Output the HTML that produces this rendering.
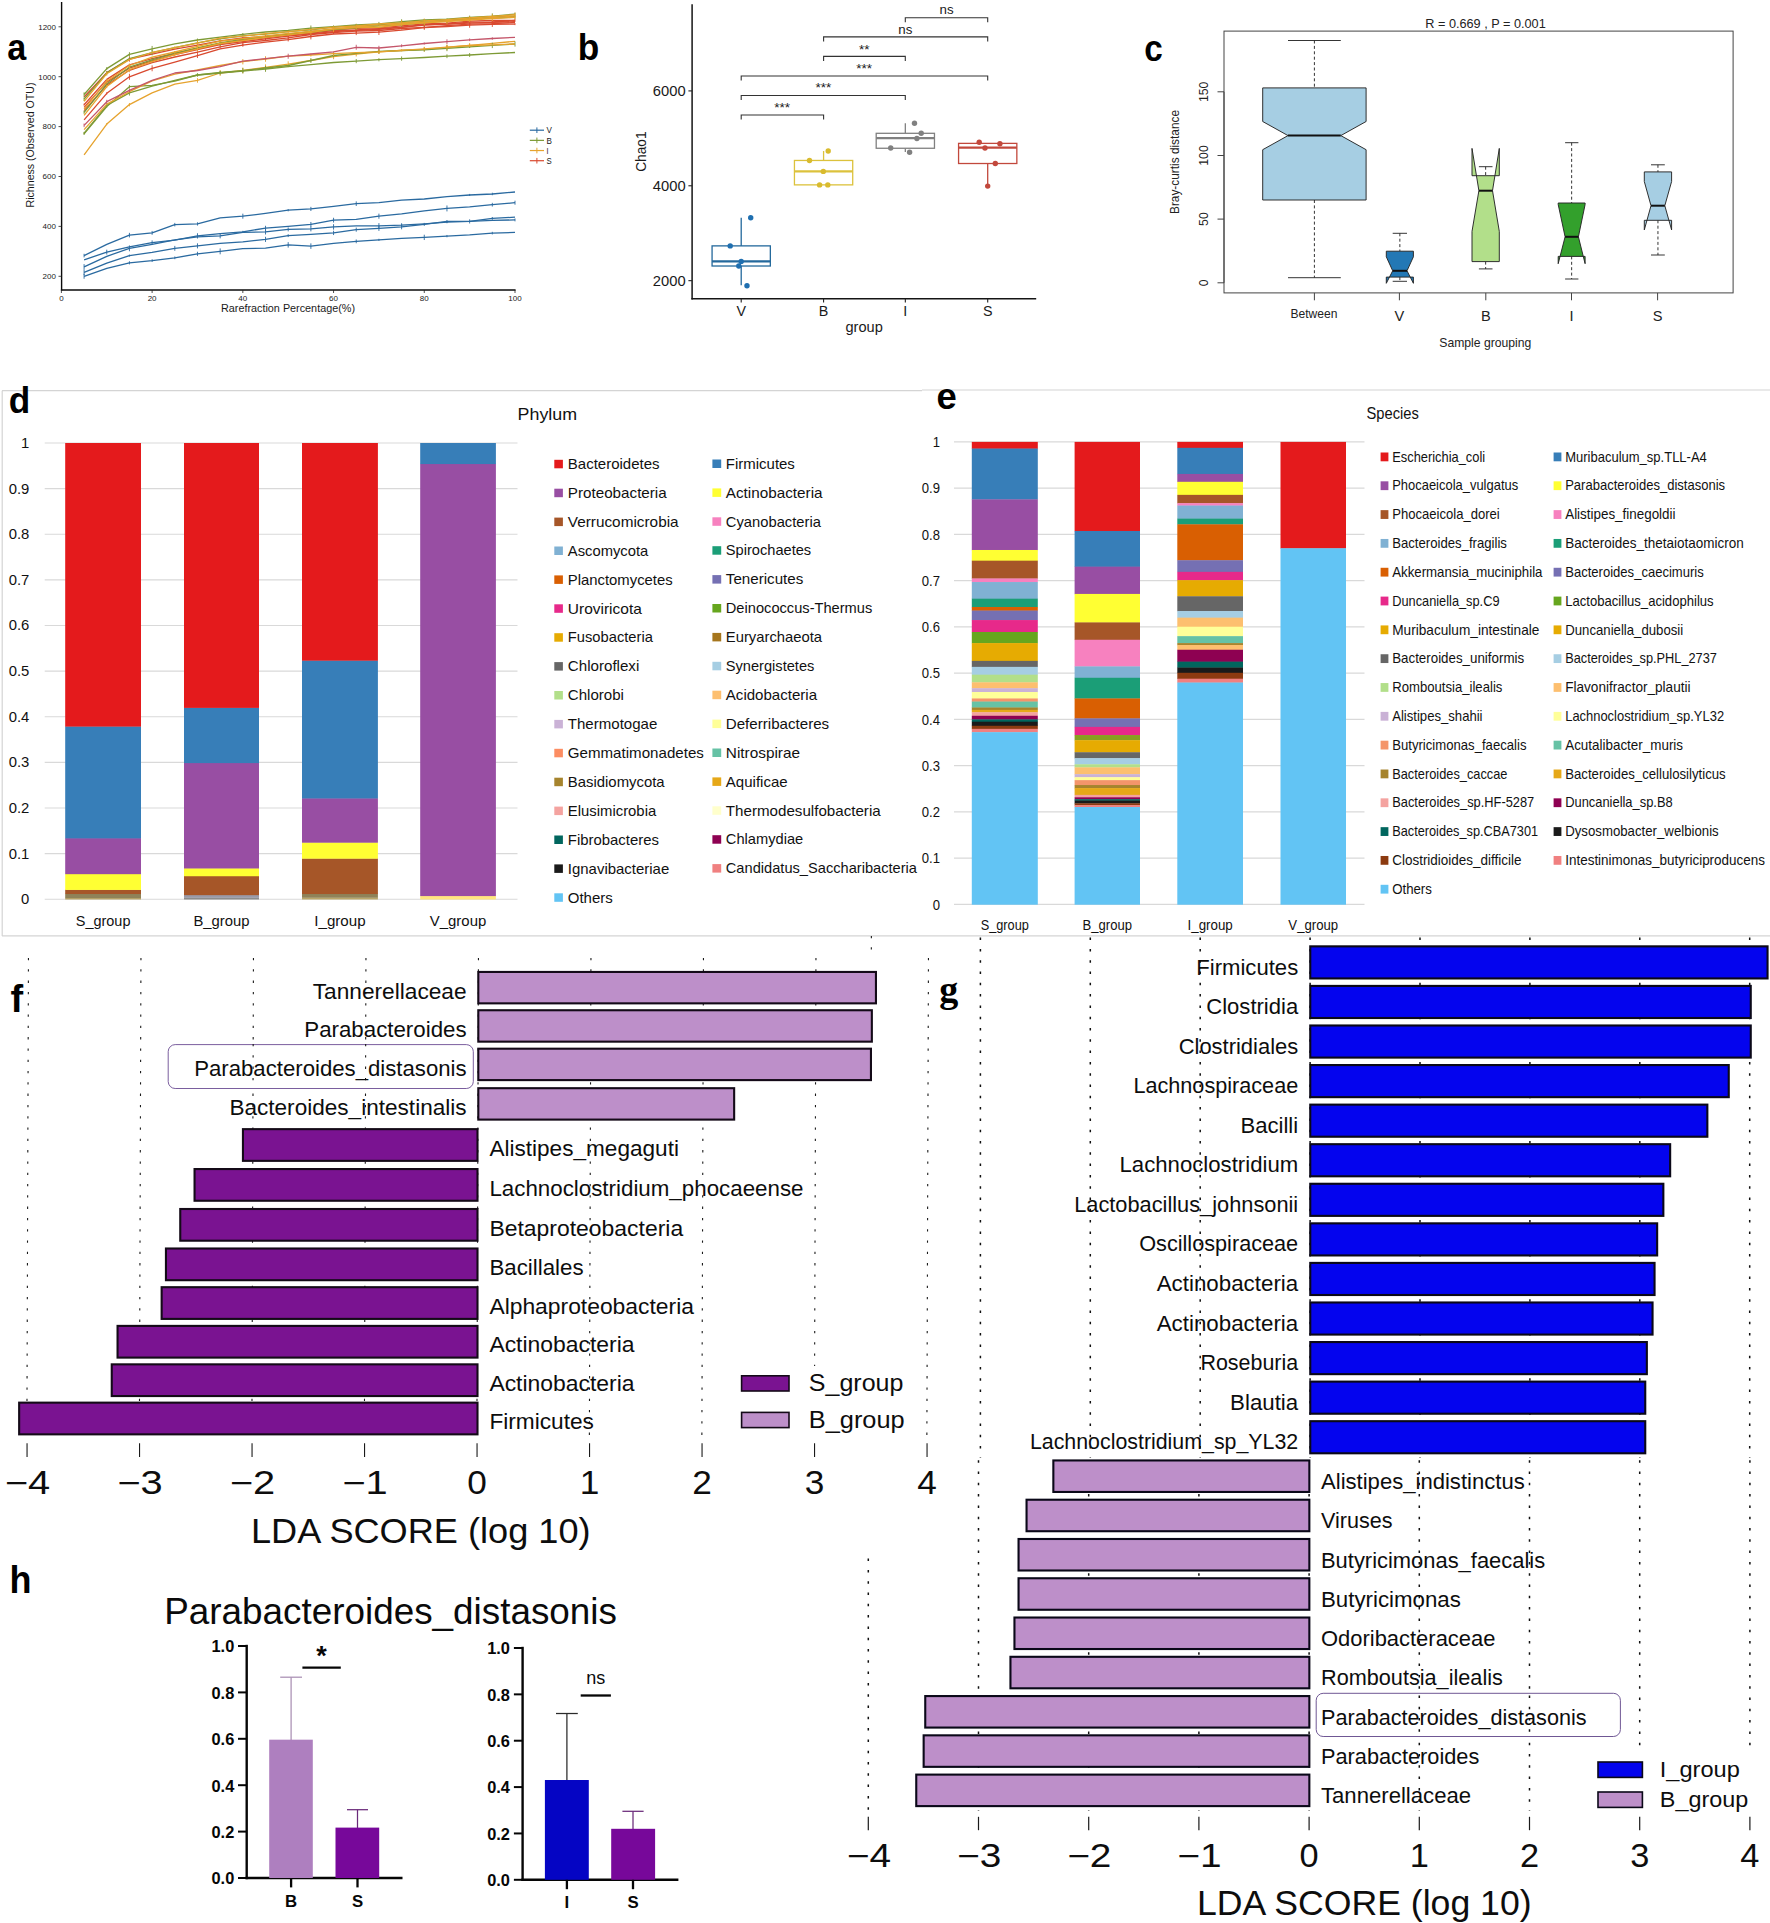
<!DOCTYPE html>
<html><head><meta charset="utf-8"><title>Figure</title>
<style>
html,body{margin:0;padding:0;background:#fff;}
body{width:1770px;height:1923px;overflow:hidden;}
svg{display:block;font-family:"Liberation Sans",sans-serif;}
</style></head><body>
<svg width="1770" height="1923" viewBox="0 0 1770 1923">
<rect x="0" y="0" width="1770" height="1923" fill="#fff"/>
<g id="panel_a">
<line x1="61.60" y1="2.00" x2="61.60" y2="290.50" stroke="#0a0a0a" stroke-width="1.4"/>
<line x1="60.90" y1="290.00" x2="515.60" y2="290.00" stroke="#0a0a0a" stroke-width="1.5"/>
<line x1="58.50" y1="276.30" x2="61.60" y2="276.30" stroke="#222" stroke-width="0.8"/>
<text x="56.00" y="279.10" font-size="7.9" text-anchor="end" fill="#1a1a1a" textLength="13.36" lengthAdjust="spacingAndGlyphs">200</text>
<line x1="58.50" y1="226.40" x2="61.60" y2="226.40" stroke="#222" stroke-width="0.8"/>
<text x="56.00" y="229.20" font-size="7.9" text-anchor="end" fill="#1a1a1a" textLength="13.36" lengthAdjust="spacingAndGlyphs">400</text>
<line x1="58.50" y1="176.50" x2="61.60" y2="176.50" stroke="#222" stroke-width="0.8"/>
<text x="56.00" y="179.30" font-size="7.9" text-anchor="end" fill="#1a1a1a" textLength="13.36" lengthAdjust="spacingAndGlyphs">600</text>
<line x1="58.50" y1="126.60" x2="61.60" y2="126.60" stroke="#222" stroke-width="0.8"/>
<text x="56.00" y="129.40" font-size="7.9" text-anchor="end" fill="#1a1a1a" textLength="13.36" lengthAdjust="spacingAndGlyphs">800</text>
<line x1="58.50" y1="76.70" x2="61.60" y2="76.70" stroke="#222" stroke-width="0.8"/>
<text x="56.00" y="79.50" font-size="7.9" text-anchor="end" fill="#1a1a1a" textLength="17.81" lengthAdjust="spacingAndGlyphs">1000</text>
<line x1="58.50" y1="26.80" x2="61.60" y2="26.80" stroke="#222" stroke-width="0.8"/>
<text x="56.00" y="29.60" font-size="7.9" text-anchor="end" fill="#1a1a1a" textLength="17.81" lengthAdjust="spacingAndGlyphs">1200</text>
<line x1="61.40" y1="290.00" x2="61.40" y2="293.00" stroke="#222" stroke-width="0.8"/>
<text x="61.40" y="301.20" font-size="7.9" text-anchor="middle" fill="#1a1a1a" textLength="4.45" lengthAdjust="spacingAndGlyphs">0</text>
<line x1="152.12" y1="290.00" x2="152.12" y2="293.00" stroke="#222" stroke-width="0.8"/>
<text x="152.12" y="301.20" font-size="7.9" text-anchor="middle" fill="#1a1a1a" textLength="8.91" lengthAdjust="spacingAndGlyphs">20</text>
<line x1="242.84" y1="290.00" x2="242.84" y2="293.00" stroke="#222" stroke-width="0.8"/>
<text x="242.84" y="301.20" font-size="7.9" text-anchor="middle" fill="#1a1a1a" textLength="8.91" lengthAdjust="spacingAndGlyphs">40</text>
<line x1="333.56" y1="290.00" x2="333.56" y2="293.00" stroke="#222" stroke-width="0.8"/>
<text x="333.56" y="301.20" font-size="7.9" text-anchor="middle" fill="#1a1a1a" textLength="8.91" lengthAdjust="spacingAndGlyphs">60</text>
<line x1="424.28" y1="290.00" x2="424.28" y2="293.00" stroke="#222" stroke-width="0.8"/>
<text x="424.28" y="301.20" font-size="7.9" text-anchor="middle" fill="#1a1a1a" textLength="8.91" lengthAdjust="spacingAndGlyphs">80</text>
<line x1="515.00" y1="290.00" x2="515.00" y2="293.00" stroke="#222" stroke-width="0.8"/>
<text x="515.00" y="301.20" font-size="7.9" text-anchor="middle" fill="#1a1a1a" textLength="13.36" lengthAdjust="spacingAndGlyphs">100</text>
<text x="288.00" y="311.70" font-size="10.5" text-anchor="middle" fill="#1a1a1a" textLength="134.00" lengthAdjust="spacingAndGlyphs">Rarefraction Percentage(%)</text>
<text transform="translate(33.6,145) rotate(-90)" font-size="10.5" text-anchor="middle" fill="#1a1a1a" textLength="125" lengthAdjust="spacingAndGlyphs">Richness (Observed OTU)</text>
<path d="M84.1,97.0 L106.8,72.6 L129.4,59.2 L152.1,54.2 L174.8,49.1 L197.5,45.2 L220.2,40.8 L242.8,38.0 L265.5,36.6 L288.2,34.5 L310.9,31.5 L333.6,29.7 L356.2,28.3 L378.9,27.9 L401.6,25.8 L424.3,23.9 L447.0,23.2 L469.6,21.2 L492.3,20.4 L515.0,20.3" stroke="#d9492f" stroke-width="1.3" fill="none" stroke-linejoin="round"/>
<line x1="106.76" y1="71.04" x2="106.76" y2="74.14" stroke="#d9492f" stroke-width="0.9"/>
<line x1="129.44" y1="56.72" x2="129.44" y2="61.67" stroke="#d9492f" stroke-width="0.9"/>
<line x1="197.48" y1="43.31" x2="197.48" y2="47.00" stroke="#d9492f" stroke-width="0.9"/>
<line x1="220.16" y1="39.35" x2="220.16" y2="42.22" stroke="#d9492f" stroke-width="0.9"/>
<line x1="242.84" y1="36.95" x2="242.84" y2="39.06" stroke="#d9492f" stroke-width="0.9"/>
<line x1="265.52" y1="34.32" x2="265.52" y2="38.92" stroke="#d9492f" stroke-width="0.9"/>
<line x1="288.20" y1="33.10" x2="288.20" y2="35.98" stroke="#d9492f" stroke-width="0.9"/>
<line x1="356.24" y1="25.66" x2="356.24" y2="30.88" stroke="#d9492f" stroke-width="0.9"/>
<line x1="401.60" y1="24.51" x2="401.60" y2="27.13" stroke="#d9492f" stroke-width="0.9"/>
<line x1="446.96" y1="21.97" x2="446.96" y2="24.34" stroke="#d9492f" stroke-width="0.9"/>
<line x1="469.64" y1="18.55" x2="469.64" y2="23.94" stroke="#d9492f" stroke-width="0.9"/>
<path d="M84.1,107.4 L106.8,82.1 L129.4,68.1 L152.1,60.9 L174.8,54.6 L197.5,49.6 L220.2,44.5 L242.8,41.7 L265.5,38.8 L288.2,36.2 L310.9,33.8 L333.6,31.7 L356.2,30.4 L378.9,29.4 L401.6,27.3 L424.3,25.2 L447.0,24.0 L469.6,23.2 L492.3,22.3 L515.0,21.6" stroke="#d9492f" stroke-width="1.3" fill="none" stroke-linejoin="round"/>
<line x1="106.76" y1="79.11" x2="106.76" y2="85.01" stroke="#d9492f" stroke-width="0.9"/>
<line x1="129.44" y1="65.95" x2="129.44" y2="70.16" stroke="#d9492f" stroke-width="0.9"/>
<line x1="265.52" y1="37.39" x2="265.52" y2="40.30" stroke="#d9492f" stroke-width="0.9"/>
<line x1="288.20" y1="35.09" x2="288.20" y2="37.40" stroke="#d9492f" stroke-width="0.9"/>
<line x1="310.88" y1="32.60" x2="310.88" y2="35.01" stroke="#d9492f" stroke-width="0.9"/>
<line x1="333.56" y1="29.48" x2="333.56" y2="34.02" stroke="#d9492f" stroke-width="0.9"/>
<line x1="356.24" y1="28.66" x2="356.24" y2="32.14" stroke="#d9492f" stroke-width="0.9"/>
<line x1="378.92" y1="27.84" x2="378.92" y2="30.90" stroke="#d9492f" stroke-width="0.9"/>
<line x1="469.64" y1="20.72" x2="469.64" y2="25.63" stroke="#d9492f" stroke-width="0.9"/>
<line x1="492.32" y1="20.58" x2="492.32" y2="24.10" stroke="#d9492f" stroke-width="0.9"/>
<path d="M84.1,110.6 L106.8,85.1 L129.4,70.3 L152.1,62.6 L174.8,57.0 L197.5,52.2 L220.2,46.8 L242.8,42.7 L265.5,40.5 L288.2,37.8 L310.9,34.5 L333.6,32.5 L356.2,31.1 L378.9,30.5 L401.6,28.5 L424.3,27.3 L447.0,25.6 L469.6,24.1 L492.3,23.6 L515.0,22.5" stroke="#d9492f" stroke-width="1.3" fill="none" stroke-linejoin="round"/>
<line x1="197.48" y1="51.13" x2="197.48" y2="53.26" stroke="#d9492f" stroke-width="0.9"/>
<line x1="220.16" y1="45.27" x2="220.16" y2="48.34" stroke="#d9492f" stroke-width="0.9"/>
<line x1="242.84" y1="39.79" x2="242.84" y2="45.57" stroke="#d9492f" stroke-width="0.9"/>
<line x1="288.20" y1="35.50" x2="288.20" y2="40.12" stroke="#d9492f" stroke-width="0.9"/>
<line x1="310.88" y1="31.69" x2="310.88" y2="37.34" stroke="#d9492f" stroke-width="0.9"/>
<line x1="333.56" y1="30.96" x2="333.56" y2="34.02" stroke="#d9492f" stroke-width="0.9"/>
<line x1="356.24" y1="29.00" x2="356.24" y2="33.25" stroke="#d9492f" stroke-width="0.9"/>
<line x1="378.92" y1="28.32" x2="378.92" y2="32.66" stroke="#d9492f" stroke-width="0.9"/>
<line x1="424.28" y1="25.81" x2="424.28" y2="28.69" stroke="#d9492f" stroke-width="0.9"/>
<line x1="469.64" y1="22.95" x2="469.64" y2="25.31" stroke="#d9492f" stroke-width="0.9"/>
<line x1="492.32" y1="22.40" x2="492.32" y2="24.84" stroke="#d9492f" stroke-width="0.9"/>
<path d="M84.1,119.9 L106.8,93.3 L129.4,76.8 L152.1,68.3 L174.8,62.2 L197.5,55.6 L220.2,48.8 L242.8,45.2 L265.5,42.1 L288.2,39.6 L310.9,36.5 L333.6,34.0 L356.2,33.1 L378.9,32.2 L401.6,30.2 L424.3,27.6 L447.0,26.5 L469.6,25.2 L492.3,24.4 L515.0,24.1" stroke="#d9492f" stroke-width="1.3" fill="none" stroke-linejoin="round"/>
<line x1="106.76" y1="92.19" x2="106.76" y2="94.44" stroke="#d9492f" stroke-width="0.9"/>
<line x1="129.44" y1="73.81" x2="129.44" y2="79.80" stroke="#d9492f" stroke-width="0.9"/>
<line x1="152.12" y1="65.37" x2="152.12" y2="71.25" stroke="#d9492f" stroke-width="0.9"/>
<line x1="197.48" y1="53.15" x2="197.48" y2="58.03" stroke="#d9492f" stroke-width="0.9"/>
<line x1="242.84" y1="43.68" x2="242.84" y2="46.75" stroke="#d9492f" stroke-width="0.9"/>
<line x1="288.20" y1="37.68" x2="288.20" y2="41.42" stroke="#d9492f" stroke-width="0.9"/>
<line x1="310.88" y1="33.59" x2="310.88" y2="39.40" stroke="#d9492f" stroke-width="0.9"/>
<line x1="356.24" y1="31.11" x2="356.24" y2="35.12" stroke="#d9492f" stroke-width="0.9"/>
<line x1="378.92" y1="29.36" x2="378.92" y2="35.01" stroke="#d9492f" stroke-width="0.9"/>
<line x1="424.28" y1="25.34" x2="424.28" y2="29.90" stroke="#d9492f" stroke-width="0.9"/>
<line x1="469.64" y1="22.72" x2="469.64" y2="27.77" stroke="#d9492f" stroke-width="0.9"/>
<line x1="492.32" y1="21.82" x2="492.32" y2="26.94" stroke="#d9492f" stroke-width="0.9"/>
<line x1="515.00" y1="23.11" x2="515.00" y2="25.11" stroke="#d9492f" stroke-width="0.9"/>
<path d="M84.1,104.7 L106.8,79.4 L129.4,64.9 L152.1,58.7 L174.8,53.5 L197.5,48.4 L220.2,43.6 L242.8,40.1 L265.5,37.8 L288.2,35.4 L310.9,33.0 L333.6,30.5 L356.2,30.0 L378.9,28.6 L401.6,27.1 L424.3,24.6 L447.0,24.2 L469.6,22.2 L492.3,22.0 L515.0,20.4" stroke="#d9492f" stroke-width="1.3" fill="none" stroke-linejoin="round"/>
<line x1="84.08" y1="103.63" x2="84.08" y2="105.71" stroke="#d9492f" stroke-width="0.9"/>
<line x1="174.80" y1="52.39" x2="174.80" y2="54.62" stroke="#d9492f" stroke-width="0.9"/>
<line x1="242.84" y1="38.09" x2="242.84" y2="42.03" stroke="#d9492f" stroke-width="0.9"/>
<line x1="265.52" y1="35.24" x2="265.52" y2="40.28" stroke="#d9492f" stroke-width="0.9"/>
<line x1="310.88" y1="31.10" x2="310.88" y2="35.00" stroke="#d9492f" stroke-width="0.9"/>
<line x1="333.56" y1="29.01" x2="333.56" y2="32.07" stroke="#d9492f" stroke-width="0.9"/>
<line x1="378.92" y1="27.14" x2="378.92" y2="29.99" stroke="#d9492f" stroke-width="0.9"/>
<line x1="401.60" y1="24.62" x2="401.60" y2="29.54" stroke="#d9492f" stroke-width="0.9"/>
<line x1="424.28" y1="22.96" x2="424.28" y2="26.20" stroke="#d9492f" stroke-width="0.9"/>
<line x1="492.32" y1="19.93" x2="492.32" y2="24.00" stroke="#d9492f" stroke-width="0.9"/>
<line x1="515.00" y1="18.95" x2="515.00" y2="21.85" stroke="#d9492f" stroke-width="0.9"/>
<path d="M84.1,94.5 L106.8,68.6 L129.4,54.4 L152.1,48.8 L174.8,43.9 L197.5,40.0 L220.2,37.2 L242.8,34.3 L265.5,32.0 L288.2,30.4 L310.9,28.1 L333.6,26.7 L356.2,25.0 L378.9,23.8 L401.6,21.7 L424.3,19.9 L447.0,19.1 L469.6,17.4 L492.3,16.1 L515.0,14.1" stroke="#7d9a35" stroke-width="1.3" fill="none" stroke-linejoin="round"/>
<line x1="84.08" y1="92.36" x2="84.08" y2="96.72" stroke="#7d9a35" stroke-width="0.9"/>
<line x1="106.76" y1="67.17" x2="106.76" y2="70.05" stroke="#7d9a35" stroke-width="0.9"/>
<line x1="129.44" y1="52.19" x2="129.44" y2="56.71" stroke="#7d9a35" stroke-width="0.9"/>
<line x1="152.12" y1="45.96" x2="152.12" y2="51.58" stroke="#7d9a35" stroke-width="0.9"/>
<line x1="197.48" y1="38.54" x2="197.48" y2="41.49" stroke="#7d9a35" stroke-width="0.9"/>
<line x1="242.84" y1="33.02" x2="242.84" y2="35.55" stroke="#7d9a35" stroke-width="0.9"/>
<line x1="310.88" y1="25.49" x2="310.88" y2="30.62" stroke="#7d9a35" stroke-width="0.9"/>
<line x1="356.24" y1="23.76" x2="356.24" y2="26.15" stroke="#7d9a35" stroke-width="0.9"/>
<line x1="378.92" y1="21.91" x2="378.92" y2="25.60" stroke="#7d9a35" stroke-width="0.9"/>
<line x1="401.60" y1="19.24" x2="401.60" y2="24.15" stroke="#7d9a35" stroke-width="0.9"/>
<line x1="469.64" y1="15.64" x2="469.64" y2="19.25" stroke="#7d9a35" stroke-width="0.9"/>
<line x1="492.32" y1="13.36" x2="492.32" y2="18.81" stroke="#7d9a35" stroke-width="0.9"/>
<line x1="515.00" y1="12.76" x2="515.00" y2="15.52" stroke="#7d9a35" stroke-width="0.9"/>
<path d="M84.1,99.1 L106.8,72.9 L129.4,58.6 L152.1,52.7 L174.8,47.6 L197.5,42.8 L220.2,38.8 L242.8,35.8 L265.5,34.1 L288.2,31.7 L310.9,29.9 L333.6,27.2 L356.2,25.9 L378.9,24.8 L401.6,22.9 L424.3,21.0 L447.0,20.1 L469.6,18.3 L492.3,16.8 L515.0,16.1" stroke="#7d9a35" stroke-width="1.3" fill="none" stroke-linejoin="round"/>
<line x1="84.08" y1="97.27" x2="84.08" y2="100.96" stroke="#7d9a35" stroke-width="0.9"/>
<line x1="106.76" y1="71.37" x2="106.76" y2="74.37" stroke="#7d9a35" stroke-width="0.9"/>
<line x1="152.12" y1="49.95" x2="152.12" y2="55.39" stroke="#7d9a35" stroke-width="0.9"/>
<line x1="197.48" y1="39.77" x2="197.48" y2="45.76" stroke="#7d9a35" stroke-width="0.9"/>
<line x1="310.88" y1="27.95" x2="310.88" y2="31.89" stroke="#7d9a35" stroke-width="0.9"/>
<line x1="333.56" y1="25.37" x2="333.56" y2="28.97" stroke="#7d9a35" stroke-width="0.9"/>
<line x1="356.24" y1="24.11" x2="356.24" y2="27.63" stroke="#7d9a35" stroke-width="0.9"/>
<line x1="401.60" y1="20.32" x2="401.60" y2="25.46" stroke="#7d9a35" stroke-width="0.9"/>
<line x1="424.28" y1="19.11" x2="424.28" y2="22.80" stroke="#7d9a35" stroke-width="0.9"/>
<path d="M84.1,112.3 L106.8,84.0 L129.4,67.2 L152.1,59.8 L174.8,53.1 L197.5,47.9 L220.2,43.0 L242.8,39.2 L265.5,37.1 L288.2,34.1 L310.9,32.0 L333.6,29.5 L356.2,27.8 L378.9,25.9 L401.6,24.7 L424.3,22.7 L447.0,20.8 L469.6,19.0 L492.3,18.1 L515.0,17.0" stroke="#7d9a35" stroke-width="1.3" fill="none" stroke-linejoin="round"/>
<line x1="84.08" y1="110.71" x2="84.08" y2="113.90" stroke="#7d9a35" stroke-width="0.9"/>
<line x1="152.12" y1="57.31" x2="152.12" y2="62.30" stroke="#7d9a35" stroke-width="0.9"/>
<line x1="174.80" y1="50.97" x2="174.80" y2="55.31" stroke="#7d9a35" stroke-width="0.9"/>
<line x1="197.48" y1="45.20" x2="197.48" y2="50.61" stroke="#7d9a35" stroke-width="0.9"/>
<line x1="220.16" y1="40.06" x2="220.16" y2="45.91" stroke="#7d9a35" stroke-width="0.9"/>
<line x1="242.84" y1="37.85" x2="242.84" y2="40.59" stroke="#7d9a35" stroke-width="0.9"/>
<line x1="310.88" y1="30.74" x2="310.88" y2="33.22" stroke="#7d9a35" stroke-width="0.9"/>
<line x1="356.24" y1="25.56" x2="356.24" y2="29.94" stroke="#7d9a35" stroke-width="0.9"/>
<line x1="401.60" y1="22.55" x2="401.60" y2="26.88" stroke="#7d9a35" stroke-width="0.9"/>
<line x1="424.28" y1="19.83" x2="424.28" y2="25.57" stroke="#7d9a35" stroke-width="0.9"/>
<line x1="446.96" y1="18.39" x2="446.96" y2="23.25" stroke="#7d9a35" stroke-width="0.9"/>
<line x1="469.64" y1="17.23" x2="469.64" y2="20.81" stroke="#7d9a35" stroke-width="0.9"/>
<line x1="515.00" y1="15.32" x2="515.00" y2="18.59" stroke="#7d9a35" stroke-width="0.9"/>
<path d="M84.1,101.4 L106.8,73.7 L129.4,59.6 L152.1,52.5 L174.8,47.7 L197.5,43.2 L220.2,38.2 L242.8,36.2 L265.5,33.6 L288.2,31.7 L310.9,29.4 L333.6,27.2 L356.2,26.0 L378.9,24.0 L401.6,22.9 L424.3,20.9 L447.0,19.7 L469.6,18.0 L492.3,16.5 L515.0,14.7" stroke="#e6a32e" stroke-width="1.3" fill="none" stroke-linejoin="round"/>
<line x1="106.76" y1="71.82" x2="106.76" y2="75.66" stroke="#e6a32e" stroke-width="0.9"/>
<line x1="174.80" y1="46.23" x2="174.80" y2="49.08" stroke="#e6a32e" stroke-width="0.9"/>
<line x1="197.48" y1="40.29" x2="197.48" y2="46.02" stroke="#e6a32e" stroke-width="0.9"/>
<line x1="265.52" y1="32.28" x2="265.52" y2="34.92" stroke="#e6a32e" stroke-width="0.9"/>
<line x1="401.60" y1="20.23" x2="401.60" y2="25.49" stroke="#e6a32e" stroke-width="0.9"/>
<line x1="424.28" y1="18.56" x2="424.28" y2="23.22" stroke="#e6a32e" stroke-width="0.9"/>
<line x1="469.64" y1="16.73" x2="469.64" y2="19.19" stroke="#e6a32e" stroke-width="0.9"/>
<line x1="492.32" y1="14.39" x2="492.32" y2="18.60" stroke="#e6a32e" stroke-width="0.9"/>
<line x1="515.00" y1="12.46" x2="515.00" y2="16.88" stroke="#e6a32e" stroke-width="0.9"/>
<path d="M84.1,109.2 L106.8,81.2 L129.4,65.5 L152.1,57.2 L174.8,52.0 L197.5,46.4 L220.2,41.1 L242.8,38.7 L265.5,35.8 L288.2,33.3 L310.9,31.4 L333.6,28.7 L356.2,26.9 L378.9,25.8 L401.6,23.6 L424.3,22.3 L447.0,20.7 L469.6,19.4 L492.3,17.7 L515.0,15.9" stroke="#e6a32e" stroke-width="1.3" fill="none" stroke-linejoin="round"/>
<line x1="106.76" y1="78.96" x2="106.76" y2="83.49" stroke="#e6a32e" stroke-width="0.9"/>
<line x1="129.44" y1="63.51" x2="129.44" y2="67.47" stroke="#e6a32e" stroke-width="0.9"/>
<line x1="197.48" y1="44.58" x2="197.48" y2="48.27" stroke="#e6a32e" stroke-width="0.9"/>
<line x1="220.16" y1="40.06" x2="220.16" y2="42.08" stroke="#e6a32e" stroke-width="0.9"/>
<line x1="288.20" y1="30.80" x2="288.20" y2="35.76" stroke="#e6a32e" stroke-width="0.9"/>
<line x1="333.56" y1="27.64" x2="333.56" y2="29.68" stroke="#e6a32e" stroke-width="0.9"/>
<line x1="356.24" y1="24.16" x2="356.24" y2="29.69" stroke="#e6a32e" stroke-width="0.9"/>
<line x1="401.60" y1="20.91" x2="401.60" y2="26.25" stroke="#e6a32e" stroke-width="0.9"/>
<line x1="446.96" y1="19.45" x2="446.96" y2="21.96" stroke="#e6a32e" stroke-width="0.9"/>
<line x1="469.64" y1="16.57" x2="469.64" y2="22.16" stroke="#e6a32e" stroke-width="0.9"/>
<path d="M84.1,115.3 L106.8,86.6 L129.4,69.7 L152.1,61.6 L174.8,54.6 L197.5,48.9 L220.2,43.5 L242.8,40.6 L265.5,37.4 L288.2,34.9 L310.9,32.4 L333.6,29.2 L356.2,27.7 L378.9,27.3 L401.6,24.5 L424.3,22.8 L447.0,21.6 L469.6,20.2 L492.3,18.5 L515.0,17.4" stroke="#e6a32e" stroke-width="1.3" fill="none" stroke-linejoin="round"/>
<line x1="106.76" y1="85.07" x2="106.76" y2="88.07" stroke="#e6a32e" stroke-width="0.9"/>
<line x1="129.44" y1="67.13" x2="129.44" y2="72.26" stroke="#e6a32e" stroke-width="0.9"/>
<line x1="174.80" y1="52.36" x2="174.80" y2="56.84" stroke="#e6a32e" stroke-width="0.9"/>
<line x1="197.48" y1="46.02" x2="197.48" y2="51.74" stroke="#e6a32e" stroke-width="0.9"/>
<line x1="310.88" y1="29.96" x2="310.88" y2="34.90" stroke="#e6a32e" stroke-width="0.9"/>
<line x1="333.56" y1="26.32" x2="333.56" y2="32.04" stroke="#e6a32e" stroke-width="0.9"/>
<line x1="424.28" y1="20.27" x2="424.28" y2="25.41" stroke="#e6a32e" stroke-width="0.9"/>
<line x1="446.96" y1="18.83" x2="446.96" y2="24.32" stroke="#e6a32e" stroke-width="0.9"/>
<line x1="492.32" y1="15.86" x2="492.32" y2="21.13" stroke="#e6a32e" stroke-width="0.9"/>
<line x1="515.00" y1="15.79" x2="515.00" y2="19.01" stroke="#e6a32e" stroke-width="0.9"/>
<path d="M84.1,154.8 L106.8,124.1 L129.4,104.6 L152.1,92.9 L174.8,84.2 L197.5,80.4 L220.2,73.0 L242.8,70.5 L265.5,67.3 L288.2,64.2 L310.9,60.5 L333.6,56.7 L356.2,54.2 L378.9,51.8 L401.6,50.5 L424.3,49.3 L447.0,47.4 L469.6,45.5 L492.3,43.4 L515.0,41.3" stroke="#e6a32e" stroke-width="1.3" fill="none" stroke-linejoin="round"/>
<line x1="106.76" y1="123.06" x2="106.76" y2="125.15" stroke="#e6a32e" stroke-width="0.9"/>
<line x1="129.44" y1="102.99" x2="129.44" y2="106.30" stroke="#e6a32e" stroke-width="0.9"/>
<line x1="197.48" y1="78.16" x2="197.48" y2="82.73" stroke="#e6a32e" stroke-width="0.9"/>
<line x1="220.16" y1="70.00" x2="220.16" y2="75.92" stroke="#e6a32e" stroke-width="0.9"/>
<line x1="242.84" y1="67.58" x2="242.84" y2="73.34" stroke="#e6a32e" stroke-width="0.9"/>
<line x1="265.52" y1="64.40" x2="265.52" y2="70.28" stroke="#e6a32e" stroke-width="0.9"/>
<line x1="288.20" y1="61.30" x2="288.20" y2="67.15" stroke="#e6a32e" stroke-width="0.9"/>
<line x1="310.88" y1="59.27" x2="310.88" y2="61.70" stroke="#e6a32e" stroke-width="0.9"/>
<line x1="333.56" y1="54.28" x2="333.56" y2="59.20" stroke="#e6a32e" stroke-width="0.9"/>
<line x1="356.24" y1="52.03" x2="356.24" y2="56.46" stroke="#e6a32e" stroke-width="0.9"/>
<line x1="378.92" y1="49.98" x2="378.92" y2="53.52" stroke="#e6a32e" stroke-width="0.9"/>
<line x1="424.28" y1="46.84" x2="424.28" y2="51.67" stroke="#e6a32e" stroke-width="0.9"/>
<line x1="446.96" y1="44.53" x2="446.96" y2="50.23" stroke="#e6a32e" stroke-width="0.9"/>
<line x1="469.64" y1="43.07" x2="469.64" y2="47.95" stroke="#e6a32e" stroke-width="0.9"/>
<path d="M84.1,133.8 L106.8,106.6 L129.4,86.7 L152.1,85.4 L174.8,81.2 L197.5,75.0 L220.2,73.0 L242.8,71.2 L265.5,69.0 L288.2,66.7 L310.9,64.6 L333.6,62.5 L356.2,61.1 L378.9,59.7 L401.6,58.6 L424.3,57.5 L447.0,56.2 L469.6,55.0 L492.3,53.7 L515.0,52.5" stroke="#7d9a35" stroke-width="1.3" fill="none" stroke-linejoin="round"/>
<line x1="84.08" y1="132.70" x2="84.08" y2="134.98" stroke="#7d9a35" stroke-width="0.9"/>
<line x1="129.44" y1="85.05" x2="129.44" y2="88.31" stroke="#7d9a35" stroke-width="0.9"/>
<line x1="197.48" y1="73.33" x2="197.48" y2="76.57" stroke="#7d9a35" stroke-width="0.9"/>
<line x1="220.16" y1="71.15" x2="220.16" y2="74.76" stroke="#7d9a35" stroke-width="0.9"/>
<line x1="242.84" y1="69.96" x2="242.84" y2="72.47" stroke="#7d9a35" stroke-width="0.9"/>
<line x1="265.52" y1="66.08" x2="265.52" y2="71.85" stroke="#7d9a35" stroke-width="0.9"/>
<line x1="356.24" y1="59.01" x2="356.24" y2="63.20" stroke="#7d9a35" stroke-width="0.9"/>
<line x1="378.92" y1="58.16" x2="378.92" y2="61.31" stroke="#7d9a35" stroke-width="0.9"/>
<line x1="401.60" y1="56.45" x2="401.60" y2="60.77" stroke="#7d9a35" stroke-width="0.9"/>
<line x1="446.96" y1="54.36" x2="446.96" y2="58.13" stroke="#7d9a35" stroke-width="0.9"/>
<line x1="469.64" y1="53.05" x2="469.64" y2="56.94" stroke="#7d9a35" stroke-width="0.9"/>
<path d="M84.1,133.1 L106.8,105.4 L129.4,92.9 L152.1,86.2 L174.8,80.4 L197.5,75.0 L220.2,72.5 L242.8,70.7 L265.5,68.0 L288.2,65.5 L310.9,60.5 L333.6,55.5 L356.2,53.4 L378.9,51.3 L401.6,50.5 L424.3,49.8 L447.0,48.3 L469.6,46.8 L492.3,45.4 L515.0,44.0" stroke="#7d9a35" stroke-width="1.3" fill="none" stroke-linejoin="round"/>
<line x1="84.08" y1="131.92" x2="84.08" y2="134.26" stroke="#7d9a35" stroke-width="0.9"/>
<line x1="106.76" y1="103.13" x2="106.76" y2="107.66" stroke="#7d9a35" stroke-width="0.9"/>
<line x1="129.44" y1="90.28" x2="129.44" y2="95.55" stroke="#7d9a35" stroke-width="0.9"/>
<line x1="197.48" y1="73.56" x2="197.48" y2="76.35" stroke="#7d9a35" stroke-width="0.9"/>
<line x1="220.16" y1="70.97" x2="220.16" y2="73.95" stroke="#7d9a35" stroke-width="0.9"/>
<line x1="242.84" y1="68.01" x2="242.84" y2="73.41" stroke="#7d9a35" stroke-width="0.9"/>
<line x1="265.52" y1="66.14" x2="265.52" y2="69.80" stroke="#7d9a35" stroke-width="0.9"/>
<line x1="310.88" y1="58.09" x2="310.88" y2="62.88" stroke="#7d9a35" stroke-width="0.9"/>
<line x1="333.56" y1="54.00" x2="333.56" y2="56.98" stroke="#7d9a35" stroke-width="0.9"/>
<line x1="378.92" y1="48.75" x2="378.92" y2="53.75" stroke="#7d9a35" stroke-width="0.9"/>
<line x1="424.28" y1="47.90" x2="424.28" y2="51.60" stroke="#7d9a35" stroke-width="0.9"/>
<line x1="446.96" y1="45.34" x2="446.96" y2="51.17" stroke="#7d9a35" stroke-width="0.9"/>
<line x1="469.64" y1="45.66" x2="469.64" y2="47.86" stroke="#7d9a35" stroke-width="0.9"/>
<line x1="492.32" y1="42.69" x2="492.32" y2="48.08" stroke="#7d9a35" stroke-width="0.9"/>
<line x1="515.00" y1="41.41" x2="515.00" y2="46.62" stroke="#7d9a35" stroke-width="0.9"/>
<path d="M84.1,129.6 L106.8,104.1 L129.4,91.7 L152.1,80.9 L174.8,74.2 L197.5,70.0 L220.2,65.5 L242.8,61.7 L265.5,59.0 L288.2,56.2 L310.9,55.0 L333.6,53.7 L356.2,52.7 L378.9,51.8 L401.6,50.3 L424.3,48.8 L447.0,47.1 L469.6,45.5 L492.3,44.8 L515.0,44.0" stroke="#e6a32e" stroke-width="1.3" fill="none" stroke-linejoin="round"/>
<line x1="242.84" y1="59.07" x2="242.84" y2="64.39" stroke="#e6a32e" stroke-width="0.9"/>
<line x1="265.52" y1="56.19" x2="265.52" y2="61.78" stroke="#e6a32e" stroke-width="0.9"/>
<line x1="310.88" y1="53.48" x2="310.88" y2="56.51" stroke="#e6a32e" stroke-width="0.9"/>
<line x1="333.56" y1="51.47" x2="333.56" y2="56.02" stroke="#e6a32e" stroke-width="0.9"/>
<line x1="378.92" y1="49.50" x2="378.92" y2="54.00" stroke="#e6a32e" stroke-width="0.9"/>
<line x1="401.60" y1="49.10" x2="401.60" y2="51.41" stroke="#e6a32e" stroke-width="0.9"/>
<line x1="424.28" y1="47.21" x2="424.28" y2="50.30" stroke="#e6a32e" stroke-width="0.9"/>
<line x1="446.96" y1="45.05" x2="446.96" y2="49.21" stroke="#e6a32e" stroke-width="0.9"/>
<line x1="469.64" y1="44.05" x2="469.64" y2="46.98" stroke="#e6a32e" stroke-width="0.9"/>
<path d="M84.1,125.4 L106.8,101.7 L129.4,90.4 L152.1,80.4 L174.8,73.0 L197.5,70.5 L220.2,66.7 L242.8,61.2 L265.5,58.7 L288.2,56.2 L310.9,54.0 L333.6,51.8 L356.2,47.3 L378.9,48.0 L401.6,45.8 L424.3,43.5 L447.0,41.6 L469.6,39.8 L492.3,38.5 L515.0,37.3" stroke="#c4566a" stroke-width="1.3" fill="none" stroke-linejoin="round"/>
<line x1="84.08" y1="123.54" x2="84.08" y2="127.17" stroke="#c4566a" stroke-width="0.9"/>
<line x1="106.76" y1="99.82" x2="106.76" y2="103.48" stroke="#c4566a" stroke-width="0.9"/>
<line x1="129.44" y1="88.58" x2="129.44" y2="92.26" stroke="#c4566a" stroke-width="0.9"/>
<line x1="265.52" y1="57.72" x2="265.52" y2="59.75" stroke="#c4566a" stroke-width="0.9"/>
<line x1="288.20" y1="53.73" x2="288.20" y2="58.75" stroke="#c4566a" stroke-width="0.9"/>
<line x1="356.24" y1="44.76" x2="356.24" y2="49.75" stroke="#c4566a" stroke-width="0.9"/>
<line x1="378.92" y1="45.80" x2="378.92" y2="50.21" stroke="#c4566a" stroke-width="0.9"/>
<line x1="401.60" y1="44.32" x2="401.60" y2="47.20" stroke="#c4566a" stroke-width="0.9"/>
<line x1="424.28" y1="42.46" x2="424.28" y2="44.57" stroke="#c4566a" stroke-width="0.9"/>
<line x1="446.96" y1="39.29" x2="446.96" y2="44.00" stroke="#c4566a" stroke-width="0.9"/>
<line x1="469.64" y1="38.44" x2="469.64" y2="41.10" stroke="#c4566a" stroke-width="0.9"/>
<line x1="492.32" y1="37.27" x2="492.32" y2="39.78" stroke="#c4566a" stroke-width="0.9"/>
<path d="M84.1,255.6 L106.8,244.4 L129.4,235.1 L152.1,232.9 L174.8,224.7 L197.5,223.9 L220.2,217.9 L242.8,216.2 L265.5,213.4 L288.2,210.2 L310.9,208.9 L333.6,206.4 L356.2,203.7 L378.9,202.7 L401.6,200.2 L424.3,199.0 L447.0,196.7 L469.6,195.0 L492.3,194.0 L515.0,192.0" stroke="#2a6aa0" stroke-width="1.3" fill="none" stroke-linejoin="round"/>
<line x1="84.08" y1="253.80" x2="84.08" y2="257.38" stroke="#2a6aa0" stroke-width="0.9"/>
<line x1="129.44" y1="232.85" x2="129.44" y2="237.42" stroke="#2a6aa0" stroke-width="0.9"/>
<line x1="152.12" y1="230.96" x2="152.12" y2="234.81" stroke="#2a6aa0" stroke-width="0.9"/>
<line x1="174.80" y1="222.90" x2="174.80" y2="226.41" stroke="#2a6aa0" stroke-width="0.9"/>
<line x1="197.48" y1="222.25" x2="197.48" y2="225.56" stroke="#2a6aa0" stroke-width="0.9"/>
<line x1="242.84" y1="213.67" x2="242.84" y2="218.67" stroke="#2a6aa0" stroke-width="0.9"/>
<line x1="288.20" y1="209.02" x2="288.20" y2="211.35" stroke="#2a6aa0" stroke-width="0.9"/>
<line x1="310.88" y1="206.86" x2="310.88" y2="211.01" stroke="#2a6aa0" stroke-width="0.9"/>
<line x1="356.24" y1="201.40" x2="356.24" y2="206.00" stroke="#2a6aa0" stroke-width="0.9"/>
<line x1="469.64" y1="193.92" x2="469.64" y2="196.00" stroke="#2a6aa0" stroke-width="0.9"/>
<line x1="492.32" y1="192.71" x2="492.32" y2="195.22" stroke="#2a6aa0" stroke-width="0.9"/>
<path d="M84.1,259.8 L106.8,252.1 L129.4,246.9 L152.1,242.6 L174.8,240.1 L197.5,235.9 L220.2,233.6 L242.8,231.9 L265.5,228.1 L288.2,226.4 L310.9,224.4 L333.6,220.2 L356.2,219.4 L378.9,216.2 L401.6,213.9 L424.3,210.9 L447.0,208.4 L469.6,206.9 L492.3,204.7 L515.0,202.7" stroke="#2a6aa0" stroke-width="1.3" fill="none" stroke-linejoin="round"/>
<line x1="106.76" y1="249.70" x2="106.76" y2="254.50" stroke="#2a6aa0" stroke-width="0.9"/>
<line x1="152.12" y1="240.40" x2="152.12" y2="244.83" stroke="#2a6aa0" stroke-width="0.9"/>
<line x1="197.48" y1="233.24" x2="197.48" y2="238.52" stroke="#2a6aa0" stroke-width="0.9"/>
<line x1="242.84" y1="230.84" x2="242.84" y2="232.94" stroke="#2a6aa0" stroke-width="0.9"/>
<line x1="265.52" y1="225.79" x2="265.52" y2="230.50" stroke="#2a6aa0" stroke-width="0.9"/>
<line x1="310.88" y1="221.97" x2="310.88" y2="226.83" stroke="#2a6aa0" stroke-width="0.9"/>
<line x1="333.56" y1="217.78" x2="333.56" y2="222.54" stroke="#2a6aa0" stroke-width="0.9"/>
<line x1="378.92" y1="213.63" x2="378.92" y2="218.72" stroke="#2a6aa0" stroke-width="0.9"/>
<line x1="446.96" y1="205.47" x2="446.96" y2="211.40" stroke="#2a6aa0" stroke-width="0.9"/>
<line x1="492.32" y1="202.84" x2="492.32" y2="206.55" stroke="#2a6aa0" stroke-width="0.9"/>
<line x1="515.00" y1="200.69" x2="515.00" y2="204.71" stroke="#2a6aa0" stroke-width="0.9"/>
<path d="M84.1,266.8 L106.8,256.3 L129.4,248.4 L152.1,244.4 L174.8,239.9 L197.5,236.9 L220.2,235.9 L242.8,232.4 L265.5,231.9 L288.2,229.4 L310.9,228.9 L333.6,226.9 L356.2,225.9 L378.9,225.9 L401.6,225.2 L424.3,223.9 L447.0,222.2 L469.6,221.4 L492.3,218.4 L515.0,217.2" stroke="#2a6aa0" stroke-width="1.3" fill="none" stroke-linejoin="round"/>
<line x1="84.08" y1="264.12" x2="84.08" y2="269.52" stroke="#2a6aa0" stroke-width="0.9"/>
<line x1="129.44" y1="245.43" x2="129.44" y2="251.28" stroke="#2a6aa0" stroke-width="0.9"/>
<line x1="220.16" y1="233.41" x2="220.16" y2="238.35" stroke="#2a6aa0" stroke-width="0.9"/>
<line x1="265.52" y1="229.27" x2="265.52" y2="234.51" stroke="#2a6aa0" stroke-width="0.9"/>
<line x1="288.20" y1="227.43" x2="288.20" y2="231.36" stroke="#2a6aa0" stroke-width="0.9"/>
<line x1="310.88" y1="226.43" x2="310.88" y2="231.36" stroke="#2a6aa0" stroke-width="0.9"/>
<line x1="333.56" y1="224.20" x2="333.56" y2="229.60" stroke="#2a6aa0" stroke-width="0.9"/>
<line x1="378.92" y1="223.14" x2="378.92" y2="228.66" stroke="#2a6aa0" stroke-width="0.9"/>
<line x1="401.60" y1="223.22" x2="401.60" y2="227.08" stroke="#2a6aa0" stroke-width="0.9"/>
<line x1="446.96" y1="221.10" x2="446.96" y2="223.22" stroke="#2a6aa0" stroke-width="0.9"/>
<line x1="492.32" y1="216.99" x2="492.32" y2="219.84" stroke="#2a6aa0" stroke-width="0.9"/>
<path d="M84.1,272.3 L106.8,263.1 L129.4,255.6 L152.1,252.3 L174.8,248.4 L197.5,245.9 L220.2,243.4 L242.8,241.9 L265.5,239.4 L288.2,235.6 L310.9,234.4 L333.6,232.9 L356.2,229.6 L378.9,228.4 L401.6,226.9 L424.3,224.4 L447.0,221.4 L469.6,221.4 L492.3,220.4 L515.0,219.9" stroke="#2a6aa0" stroke-width="1.3" fill="none" stroke-linejoin="round"/>
<line x1="84.08" y1="269.55" x2="84.08" y2="275.07" stroke="#2a6aa0" stroke-width="0.9"/>
<line x1="129.44" y1="254.57" x2="129.44" y2="256.61" stroke="#2a6aa0" stroke-width="0.9"/>
<line x1="174.80" y1="245.92" x2="174.80" y2="250.80" stroke="#2a6aa0" stroke-width="0.9"/>
<line x1="197.48" y1="243.34" x2="197.48" y2="248.38" stroke="#2a6aa0" stroke-width="0.9"/>
<line x1="265.52" y1="236.79" x2="265.52" y2="241.96" stroke="#2a6aa0" stroke-width="0.9"/>
<line x1="288.20" y1="234.19" x2="288.20" y2="237.07" stroke="#2a6aa0" stroke-width="0.9"/>
<line x1="333.56" y1="230.72" x2="333.56" y2="235.05" stroke="#2a6aa0" stroke-width="0.9"/>
<line x1="356.24" y1="227.58" x2="356.24" y2="231.71" stroke="#2a6aa0" stroke-width="0.9"/>
<line x1="378.92" y1="225.90" x2="378.92" y2="230.89" stroke="#2a6aa0" stroke-width="0.9"/>
<line x1="401.60" y1="224.49" x2="401.60" y2="229.30" stroke="#2a6aa0" stroke-width="0.9"/>
<line x1="424.28" y1="222.90" x2="424.28" y2="225.91" stroke="#2a6aa0" stroke-width="0.9"/>
<line x1="446.96" y1="220.02" x2="446.96" y2="222.80" stroke="#2a6aa0" stroke-width="0.9"/>
<line x1="469.64" y1="219.34" x2="469.64" y2="223.48" stroke="#2a6aa0" stroke-width="0.9"/>
<line x1="515.00" y1="218.48" x2="515.00" y2="221.35" stroke="#2a6aa0" stroke-width="0.9"/>
<path d="M84.1,276.3 L106.8,268.3 L129.4,262.8 L152.1,260.6 L174.8,257.8 L197.5,253.8 L220.2,251.4 L242.8,248.6 L265.5,248.1 L288.2,244.9 L310.9,246.1 L333.6,243.4 L356.2,241.4 L378.9,239.9 L401.6,238.4 L424.3,237.4 L447.0,236.1 L469.6,234.9 L492.3,233.1 L515.0,232.4" stroke="#2a6aa0" stroke-width="1.3" fill="none" stroke-linejoin="round"/>
<line x1="84.08" y1="273.85" x2="84.08" y2="278.75" stroke="#2a6aa0" stroke-width="0.9"/>
<line x1="129.44" y1="261.26" x2="129.44" y2="264.39" stroke="#2a6aa0" stroke-width="0.9"/>
<line x1="152.12" y1="259.19" x2="152.12" y2="261.97" stroke="#2a6aa0" stroke-width="0.9"/>
<line x1="174.80" y1="256.48" x2="174.80" y2="259.20" stroke="#2a6aa0" stroke-width="0.9"/>
<line x1="197.48" y1="251.78" x2="197.48" y2="255.91" stroke="#2a6aa0" stroke-width="0.9"/>
<line x1="220.16" y1="248.40" x2="220.16" y2="254.30" stroke="#2a6aa0" stroke-width="0.9"/>
<line x1="288.20" y1="242.13" x2="288.20" y2="247.60" stroke="#2a6aa0" stroke-width="0.9"/>
<line x1="310.88" y1="243.37" x2="310.88" y2="248.86" stroke="#2a6aa0" stroke-width="0.9"/>
<line x1="356.24" y1="239.49" x2="356.24" y2="243.25" stroke="#2a6aa0" stroke-width="0.9"/>
<line x1="378.92" y1="238.77" x2="378.92" y2="240.98" stroke="#2a6aa0" stroke-width="0.9"/>
<line x1="424.28" y1="234.73" x2="424.28" y2="240.02" stroke="#2a6aa0" stroke-width="0.9"/>
<line x1="446.96" y1="234.98" x2="446.96" y2="237.28" stroke="#2a6aa0" stroke-width="0.9"/>
<line x1="492.32" y1="231.84" x2="492.32" y2="234.43" stroke="#2a6aa0" stroke-width="0.9"/>
<line x1="529.80" y1="130.20" x2="544.00" y2="130.20" stroke="#2a6aa0" stroke-width="1.2"/>
<line x1="536.90" y1="127.40" x2="536.90" y2="133.00" stroke="#2a6aa0" stroke-width="1.0"/>
<text x="546.60" y="133.40" font-size="8.8" fill="#1a1a1a" textLength="5.40" lengthAdjust="spacingAndGlyphs">V</text>
<line x1="529.80" y1="140.37" x2="544.00" y2="140.37" stroke="#7d9a35" stroke-width="1.2"/>
<line x1="536.90" y1="137.57" x2="536.90" y2="143.17" stroke="#7d9a35" stroke-width="1.0"/>
<text x="546.60" y="143.57" font-size="8.8" fill="#1a1a1a" textLength="5.40" lengthAdjust="spacingAndGlyphs">B</text>
<line x1="529.80" y1="150.54" x2="544.00" y2="150.54" stroke="#e6a32e" stroke-width="1.2"/>
<line x1="536.90" y1="147.74" x2="536.90" y2="153.34" stroke="#e6a32e" stroke-width="1.0"/>
<text x="546.60" y="153.74" font-size="8.8" fill="#1a1a1a" textLength="2.00" lengthAdjust="spacingAndGlyphs">I</text>
<line x1="529.80" y1="160.71" x2="544.00" y2="160.71" stroke="#d9492f" stroke-width="1.2"/>
<line x1="536.90" y1="157.91" x2="536.90" y2="163.51" stroke="#d9492f" stroke-width="1.0"/>
<text x="546.60" y="163.91" font-size="8.8" fill="#1a1a1a" textLength="5.20" lengthAdjust="spacingAndGlyphs">S</text>
<text x="7.20" y="59.60" font-size="36" font-weight="bold" textLength="19.00" lengthAdjust="spacingAndGlyphs">a</text>
</g>
<g id="panel_b">
<line x1="692.10" y1="4.30" x2="692.10" y2="299.50" stroke="#151515" stroke-width="1.5"/>
<line x1="691.40" y1="298.80" x2="1036.20" y2="298.80" stroke="#151515" stroke-width="1.5"/>
<line x1="688.40" y1="90.91" x2="692.10" y2="90.91" stroke="#222" stroke-width="1.1"/>
<text x="685.60" y="96.01" font-size="14" text-anchor="end" fill="#1a1a1a" textLength="32.80" lengthAdjust="spacingAndGlyphs">6000</text>
<line x1="688.40" y1="185.78" x2="692.10" y2="185.78" stroke="#222" stroke-width="1.1"/>
<text x="685.60" y="190.88" font-size="14" text-anchor="end" fill="#1a1a1a" textLength="32.80" lengthAdjust="spacingAndGlyphs">4000</text>
<line x1="688.40" y1="280.66" x2="692.10" y2="280.66" stroke="#222" stroke-width="1.1"/>
<text x="685.60" y="285.76" font-size="14" text-anchor="end" fill="#1a1a1a" textLength="32.80" lengthAdjust="spacingAndGlyphs">2000</text>
<line x1="741.21" y1="298.80" x2="741.21" y2="302.60" stroke="#222" stroke-width="1.1"/>
<text x="741.21" y="316.00" font-size="14.3" text-anchor="middle" fill="#1a1a1a">V</text>
<line x1="823.58" y1="298.80" x2="823.58" y2="302.60" stroke="#222" stroke-width="1.1"/>
<text x="823.58" y="316.00" font-size="14.3" text-anchor="middle" fill="#1a1a1a">B</text>
<line x1="905.33" y1="298.80" x2="905.33" y2="302.60" stroke="#222" stroke-width="1.1"/>
<text x="905.33" y="316.00" font-size="14.3" text-anchor="middle" fill="#1a1a1a">I</text>
<line x1="987.70" y1="298.80" x2="987.70" y2="302.60" stroke="#222" stroke-width="1.1"/>
<text x="987.70" y="316.00" font-size="14.3" text-anchor="middle" fill="#1a1a1a">S</text>
<text x="864.15" y="332.20" font-size="14" text-anchor="middle" fill="#1a1a1a" textLength="37.30" lengthAdjust="spacingAndGlyphs">group</text>
<text transform="translate(646.3,151.6) rotate(-90)" font-size="14" text-anchor="middle" fill="#1a1a1a" textLength="40.5" lengthAdjust="spacingAndGlyphs">Chao1</text>
<line x1="741.21" y1="217.82" x2="741.21" y2="245.88" stroke="#24699c" stroke-width="1.3"/>
<line x1="741.21" y1="266.02" x2="741.21" y2="285.23" stroke="#24699c" stroke-width="1.3"/>
<rect x="712.07" y="245.88" width="58.27" height="20.13" fill="#fff" stroke="#24699c" stroke-width="1.3"/>
<line x1="712.07" y1="261.44" x2="770.34" y2="261.44" stroke="#24699c" stroke-width="2.3"/>
<circle cx="750.7" cy="217.8" r="2.7" fill="#1f6fb0"/>
<circle cx="730.2" cy="245.9" r="2.7" fill="#1f6fb0"/>
<circle cx="741.2" cy="261.4" r="2.7" fill="#1f6fb0"/>
<circle cx="738.8" cy="266.0" r="2.7" fill="#1f6fb0"/>
<circle cx="747.0" cy="285.8" r="2.7" fill="#1f6fb0"/>
<line x1="823.58" y1="151.01" x2="823.58" y2="160.46" stroke="#dcc23c" stroke-width="1.3"/>
<line x1="823.58" y1="184.87" x2="823.58" y2="184.87" stroke="#dcc23c" stroke-width="1.3"/>
<rect x="794.44" y="160.46" width="58.27" height="24.41" fill="#fff" stroke="#dcc23c" stroke-width="1.3"/>
<line x1="794.44" y1="171.45" x2="852.71" y2="171.45" stroke="#dcc23c" stroke-width="2.3"/>
<circle cx="828.2" cy="151.0" r="2.7" fill="#d9bb2e"/>
<circle cx="809.5" cy="160.5" r="2.7" fill="#d9bb2e"/>
<circle cx="823.3" cy="171.4" r="2.7" fill="#d9bb2e"/>
<circle cx="819.6" cy="184.9" r="2.7" fill="#d9bb2e"/>
<circle cx="827.8" cy="184.9" r="2.7" fill="#d9bb2e"/>
<line x1="905.33" y1="123.25" x2="905.33" y2="133.31" stroke="#808080" stroke-width="1.3"/>
<line x1="905.33" y1="148.26" x2="905.33" y2="151.92" stroke="#808080" stroke-width="1.3"/>
<rect x="876.20" y="133.31" width="58.27" height="14.95" fill="#fff" stroke="#808080" stroke-width="1.3"/>
<line x1="876.20" y1="138.19" x2="934.47" y2="138.19" stroke="#808080" stroke-width="2.3"/>
<circle cx="914.5" cy="123.2" r="2.7" fill="#808080"/>
<circle cx="921.2" cy="133.3" r="2.7" fill="#808080"/>
<circle cx="916.9" cy="138.5" r="2.7" fill="#808080"/>
<circle cx="890.7" cy="148.0" r="2.7" fill="#808080"/>
<circle cx="909.6" cy="152.2" r="2.7" fill="#808080"/>
<line x1="987.70" y1="143.38" x2="987.70" y2="143.38" stroke="#c2483c" stroke-width="1.3"/>
<line x1="987.70" y1="163.51" x2="987.70" y2="185.78" stroke="#c2483c" stroke-width="1.3"/>
<rect x="958.57" y="143.38" width="58.27" height="20.13" fill="#fff" stroke="#c2483c" stroke-width="1.3"/>
<line x1="958.57" y1="147.65" x2="1016.83" y2="147.65" stroke="#c2483c" stroke-width="2.3"/>
<circle cx="979.2" cy="142.2" r="2.7" fill="#c2483c"/>
<circle cx="999.9" cy="143.7" r="2.7" fill="#c2483c"/>
<circle cx="985.0" cy="148.0" r="2.7" fill="#c2483c"/>
<circle cx="995.3" cy="163.5" r="2.7" fill="#c2483c"/>
<circle cx="987.7" cy="186.1" r="2.7" fill="#c2483c"/>
<path d="M905.3,22.3 V17.7 H987.7 V22.3" stroke="#333" stroke-width="1.1" fill="none"/>
<text x="946.52" y="14.48" font-size="13.3" text-anchor="middle" fill="#1a1a1a">ns</text>
<path d="M823.6,41.5 V36.9 H987.7 V41.5" stroke="#333" stroke-width="1.1" fill="none"/>
<text x="905.33" y="33.70" font-size="13.3" text-anchor="middle" fill="#1a1a1a">ns</text>
<path d="M823.6,61.0 V56.4 H905.3 V61.0" stroke="#333" stroke-width="1.1" fill="none"/>
<text x="864.15" y="54.20" font-size="13.5" text-anchor="middle" fill="#1a1a1a">**</text>
<path d="M741.2,80.5 V76.0 H987.7 V80.5" stroke="#333" stroke-width="1.1" fill="none"/>
<text x="864.15" y="72.80" font-size="13.5" text-anchor="middle" fill="#1a1a1a">***</text>
<path d="M741.2,100.1 V95.5 H905.3 V100.1" stroke="#333" stroke-width="1.1" fill="none"/>
<text x="823.27" y="92.33" font-size="13.5" text-anchor="middle" fill="#1a1a1a">***</text>
<path d="M741.2,119.6 V115.0 H823.6 V119.6" stroke="#333" stroke-width="1.1" fill="none"/>
<text x="782.09" y="112.16" font-size="13.5" text-anchor="middle" fill="#1a1a1a">***</text>
<text x="577.80" y="60.20" font-size="36" font-weight="bold" textLength="21.50" lengthAdjust="spacingAndGlyphs">b</text>
</g>
<g id="panel_c">
<rect x="1224.00" y="31.10" width="509.10" height="261.80" fill="none" stroke="#444" stroke-width="1.0"/>
<text x="1485.50" y="27.80" font-size="12.4" text-anchor="middle" fill="#222" textLength="120.50" lengthAdjust="spacingAndGlyphs">R =  0.669 ,  P =  0.001</text>
<line x1="1217.50" y1="91.80" x2="1224.00" y2="91.80" stroke="#444" stroke-width="1.0"/>
<text transform="translate(1207.6,91.8) rotate(-90)" font-size="12.2" text-anchor="middle" fill="#222">150</text>
<line x1="1217.50" y1="155.50" x2="1224.00" y2="155.50" stroke="#444" stroke-width="1.0"/>
<text transform="translate(1207.6,155.5) rotate(-90)" font-size="12.2" text-anchor="middle" fill="#222">100</text>
<line x1="1217.50" y1="219.10" x2="1224.00" y2="219.10" stroke="#444" stroke-width="1.0"/>
<text transform="translate(1207.6,219.1) rotate(-90)" font-size="12.2" text-anchor="middle" fill="#222">50</text>
<line x1="1217.50" y1="282.80" x2="1224.00" y2="282.80" stroke="#444" stroke-width="1.0"/>
<text transform="translate(1207.6,282.8) rotate(-90)" font-size="12.2" text-anchor="middle" fill="#222">0</text>
<line x1="1224.00" y1="91.80" x2="1224.00" y2="282.80" stroke="#444" stroke-width="1.0"/>
<line x1="1314.40" y1="292.90" x2="1314.40" y2="300.30" stroke="#444" stroke-width="1.0"/>
<text x="1313.90" y="318.20" font-size="12.8" text-anchor="middle" fill="#222" textLength="47.00" lengthAdjust="spacingAndGlyphs">Between</text>
<line x1="1399.40" y1="292.90" x2="1399.40" y2="300.30" stroke="#444" stroke-width="1.0"/>
<text x="1399.40" y="320.60" font-size="14.6" text-anchor="middle" fill="#222">V</text>
<line x1="1485.80" y1="292.90" x2="1485.80" y2="300.30" stroke="#444" stroke-width="1.0"/>
<text x="1485.80" y="320.60" font-size="14.6" text-anchor="middle" fill="#222">B</text>
<line x1="1571.50" y1="292.90" x2="1571.50" y2="300.30" stroke="#444" stroke-width="1.0"/>
<text x="1571.50" y="320.60" font-size="14.6" text-anchor="middle" fill="#222">I</text>
<line x1="1657.60" y1="292.90" x2="1657.60" y2="300.30" stroke="#444" stroke-width="1.0"/>
<text x="1657.60" y="320.60" font-size="14.6" text-anchor="middle" fill="#222">S</text>
<text x="1485.30" y="346.80" font-size="12.8" text-anchor="middle" fill="#222" textLength="92.00" lengthAdjust="spacingAndGlyphs">Sample grouping</text>
<text transform="translate(1178.6,162) rotate(-90)" font-size="12.8" text-anchor="middle" fill="#222" textLength="104" lengthAdjust="spacingAndGlyphs">Bray-curtis distance</text>
<line x1="1314.40" y1="40.50" x2="1314.40" y2="87.90" stroke="#2a2a2a" stroke-width="0.95" stroke-dasharray="3,2.4"/>
<line x1="1314.40" y1="200.00" x2="1314.40" y2="277.70" stroke="#2a2a2a" stroke-width="0.95" stroke-dasharray="3,2.4"/>
<line x1="1288.00" y1="40.50" x2="1340.80" y2="40.50" stroke="#2a2a2a" stroke-width="0.95"/>
<line x1="1288.00" y1="277.70" x2="1340.80" y2="277.70" stroke="#2a2a2a" stroke-width="0.95"/>
<path d="M1262.7,200 L1262.7,149.7 L1288,135.6 L1262.7,121.5 L1262.7,87.9 L1366.1,87.9 L1366.1,121.5 L1340.8,135.6 L1366.1,149.7 L1366.1,200 Z" stroke="#262626" stroke-width="0.95" fill="#a6cee3" stroke-linejoin="miter" fill-rule="nonzero"/>
<line x1="1288.00" y1="135.60" x2="1340.80" y2="135.60" stroke="#111" stroke-width="2.0"/>
<line x1="1399.85" y1="233.30" x2="1399.85" y2="251.20" stroke="#2a2a2a" stroke-width="0.95" stroke-dasharray="3,2.4"/>
<line x1="1399.85" y1="277.10" x2="1399.85" y2="281.30" stroke="#2a2a2a" stroke-width="0.95" stroke-dasharray="3,2.4"/>
<line x1="1392.70" y1="233.30" x2="1407.00" y2="233.30" stroke="#2a2a2a" stroke-width="0.95"/>
<line x1="1392.70" y1="281.30" x2="1407.00" y2="281.30" stroke="#2a2a2a" stroke-width="0.95"/>
<path d="M1386.3,277.1 L1386.3,283.3 L1392.7,270.8 L1386.3,256.8 L1386.3,251.2 L1413.4,251.2 L1413.4,256.8 L1407,270.8 L1413.4,283.3 L1413.4,277.1 Z" stroke="#262626" stroke-width="0.95" fill="#2378b5" stroke-linejoin="miter" fill-rule="nonzero"/>
<line x1="1392.70" y1="270.80" x2="1407.00" y2="270.80" stroke="#111" stroke-width="2.0"/>
<line x1="1485.65" y1="166.70" x2="1485.65" y2="175.70" stroke="#2a2a2a" stroke-width="0.95" stroke-dasharray="3,2.4"/>
<line x1="1485.65" y1="261.60" x2="1485.65" y2="268.90" stroke="#2a2a2a" stroke-width="0.95" stroke-dasharray="3,2.4"/>
<line x1="1478.90" y1="166.70" x2="1492.50" y2="166.70" stroke="#2a2a2a" stroke-width="0.95"/>
<line x1="1478.90" y1="268.90" x2="1492.50" y2="268.90" stroke="#2a2a2a" stroke-width="0.95"/>
<path d="M1472,261.6 L1472,231.4 L1478.9,190.7 L1472,148.4 L1472,175.7 L1499.3,175.7 L1499.3,148.4 L1492.5,190.7 L1499.3,231.4 L1499.3,261.6 Z" stroke="#262626" stroke-width="0.95" fill="#b2df8a" stroke-linejoin="miter" fill-rule="nonzero"/>
<line x1="1478.90" y1="190.70" x2="1492.50" y2="190.70" stroke="#111" stroke-width="2.0"/>
<line x1="1571.65" y1="142.70" x2="1571.65" y2="203.00" stroke="#2a2a2a" stroke-width="0.95" stroke-dasharray="3,2.4"/>
<line x1="1571.65" y1="256.40" x2="1571.65" y2="279.00" stroke="#2a2a2a" stroke-width="0.95" stroke-dasharray="3,2.4"/>
<line x1="1565.10" y1="142.70" x2="1578.40" y2="142.70" stroke="#2a2a2a" stroke-width="0.95"/>
<line x1="1565.10" y1="279.00" x2="1578.40" y2="279.00" stroke="#2a2a2a" stroke-width="0.95"/>
<path d="M1558.2,256.4 L1558.2,263.7 L1565.1,236.8 L1558.2,204.5 L1558.2,203 L1585.1,203 L1585.1,204.5 L1578.4,236.8 L1585.1,263.7 L1585.1,256.4 Z" stroke="#262626" stroke-width="0.95" fill="#33a02c" stroke-linejoin="miter" fill-rule="nonzero"/>
<line x1="1565.10" y1="236.80" x2="1578.40" y2="236.80" stroke="#111" stroke-width="2.0"/>
<line x1="1657.95" y1="164.80" x2="1657.95" y2="171.90" stroke="#2a2a2a" stroke-width="0.95" stroke-dasharray="3,2.4"/>
<line x1="1657.95" y1="220.30" x2="1657.95" y2="255.00" stroke="#2a2a2a" stroke-width="0.95" stroke-dasharray="3,2.4"/>
<line x1="1651.00" y1="164.80" x2="1664.80" y2="164.80" stroke="#2a2a2a" stroke-width="0.95"/>
<line x1="1651.00" y1="255.00" x2="1664.80" y2="255.00" stroke="#2a2a2a" stroke-width="0.95"/>
<path d="M1644.3,220.3 L1644.3,229.9 L1651,205.7 L1644.3,181.5 L1644.3,171.9 L1671.6,171.9 L1671.6,181.5 L1664.8,205.7 L1671.6,229.9 L1671.6,220.3 Z" stroke="#262626" stroke-width="0.95" fill="#a6cee3" stroke-linejoin="miter" fill-rule="nonzero"/>
<line x1="1651.00" y1="205.70" x2="1664.80" y2="205.70" stroke="#111" stroke-width="2.0"/>
<text x="1144.20" y="61.30" font-size="37" font-weight="bold" textLength="18.50" lengthAdjust="spacingAndGlyphs">c</text>
</g>
<g id="panel_d">
<line x1="2.00" y1="390.70" x2="922.00" y2="390.70" stroke="#d4d4d4" stroke-width="1.2"/>
<line x1="922.00" y1="390.00" x2="1770.00" y2="390.00" stroke="#d4d4d4" stroke-width="1.2"/>
<line x1="2.00" y1="935.90" x2="1770.00" y2="935.90" stroke="#d4d4d4" stroke-width="1.2"/>
<line x1="2.20" y1="390.70" x2="2.20" y2="935.90" stroke="#d4d4d4" stroke-width="1.2"/>
<line x1="44.70" y1="899.20" x2="517.50" y2="899.20" stroke="#d9d9d9" stroke-width="1.1"/>
<text x="29.30" y="904.20" font-size="14.4" text-anchor="end" fill="#111" textLength="8.26" lengthAdjust="spacingAndGlyphs">0</text>
<line x1="44.70" y1="853.58" x2="517.50" y2="853.58" stroke="#d9d9d9" stroke-width="1.1"/>
<text x="29.30" y="858.58" font-size="14.4" text-anchor="end" fill="#111" textLength="20.64" lengthAdjust="spacingAndGlyphs">0.1</text>
<line x1="44.70" y1="807.96" x2="517.50" y2="807.96" stroke="#d9d9d9" stroke-width="1.1"/>
<text x="29.30" y="812.96" font-size="14.4" text-anchor="end" fill="#111" textLength="20.64" lengthAdjust="spacingAndGlyphs">0.2</text>
<line x1="44.70" y1="762.34" x2="517.50" y2="762.34" stroke="#d9d9d9" stroke-width="1.1"/>
<text x="29.30" y="767.34" font-size="14.4" text-anchor="end" fill="#111" textLength="20.64" lengthAdjust="spacingAndGlyphs">0.3</text>
<line x1="44.70" y1="716.72" x2="517.50" y2="716.72" stroke="#d9d9d9" stroke-width="1.1"/>
<text x="29.30" y="721.72" font-size="14.4" text-anchor="end" fill="#111" textLength="20.64" lengthAdjust="spacingAndGlyphs">0.4</text>
<line x1="44.70" y1="671.10" x2="517.50" y2="671.10" stroke="#d9d9d9" stroke-width="1.1"/>
<text x="29.30" y="676.10" font-size="14.4" text-anchor="end" fill="#111" textLength="20.64" lengthAdjust="spacingAndGlyphs">0.5</text>
<line x1="44.70" y1="625.48" x2="517.50" y2="625.48" stroke="#d9d9d9" stroke-width="1.1"/>
<text x="29.30" y="630.48" font-size="14.4" text-anchor="end" fill="#111" textLength="20.64" lengthAdjust="spacingAndGlyphs">0.6</text>
<line x1="44.70" y1="579.86" x2="517.50" y2="579.86" stroke="#d9d9d9" stroke-width="1.1"/>
<text x="29.30" y="584.86" font-size="14.4" text-anchor="end" fill="#111" textLength="20.64" lengthAdjust="spacingAndGlyphs">0.7</text>
<line x1="44.70" y1="534.24" x2="517.50" y2="534.24" stroke="#d9d9d9" stroke-width="1.1"/>
<text x="29.30" y="539.24" font-size="14.4" text-anchor="end" fill="#111" textLength="20.64" lengthAdjust="spacingAndGlyphs">0.8</text>
<line x1="44.70" y1="488.62" x2="517.50" y2="488.62" stroke="#d9d9d9" stroke-width="1.1"/>
<text x="29.30" y="493.62" font-size="14.4" text-anchor="end" fill="#111" textLength="20.64" lengthAdjust="spacingAndGlyphs">0.9</text>
<line x1="44.70" y1="443.00" x2="517.50" y2="443.00" stroke="#d9d9d9" stroke-width="1.1"/>
<text x="29.30" y="448.00" font-size="14.4" text-anchor="end" fill="#111" textLength="8.26" lengthAdjust="spacingAndGlyphs">1</text>
<rect x="65.20" y="897.83" width="75.80" height="1.67" fill="#b8a66a"/>
<rect x="65.20" y="893.73" width="75.80" height="4.41" fill="#8f8258"/>
<rect x="65.20" y="889.62" width="75.80" height="4.41" fill="#a65628"/>
<rect x="65.20" y="873.88" width="75.80" height="16.04" fill="#ffff33"/>
<rect x="65.20" y="838.07" width="75.80" height="36.11" fill="#984ea3"/>
<rect x="65.20" y="726.30" width="75.80" height="112.07" fill="#377eb8"/>
<rect x="65.20" y="443.00" width="75.80" height="283.60" fill="#e41a1c"/>
<text x="103.10" y="926.40" font-size="14.4" text-anchor="middle" fill="#111" textLength="54.69" lengthAdjust="spacingAndGlyphs">S_group</text>
<rect x="184.00" y="897.38" width="75.00" height="2.12" fill="#8c8c8c"/>
<rect x="184.00" y="894.87" width="75.00" height="2.81" fill="#9a9aa8"/>
<rect x="184.00" y="875.93" width="75.00" height="19.23" fill="#a65628"/>
<rect x="184.00" y="868.18" width="75.00" height="8.06" fill="#ffff33"/>
<rect x="184.00" y="762.80" width="75.00" height="105.68" fill="#984ea3"/>
<rect x="184.00" y="707.60" width="75.00" height="55.50" fill="#377eb8"/>
<rect x="184.00" y="443.00" width="75.00" height="264.90" fill="#e41a1c"/>
<text x="221.50" y="926.40" font-size="14.4" text-anchor="middle" fill="#111" textLength="56.06" lengthAdjust="spacingAndGlyphs">B_group</text>
<rect x="302.00" y="897.38" width="75.90" height="2.12" fill="#b8a66a"/>
<rect x="302.00" y="893.73" width="75.90" height="3.95" fill="#8f8258"/>
<rect x="302.00" y="858.37" width="75.90" height="35.66" fill="#a65628"/>
<rect x="302.00" y="842.40" width="75.90" height="16.27" fill="#ffff33"/>
<rect x="302.00" y="798.15" width="75.90" height="44.55" fill="#984ea3"/>
<rect x="302.00" y="660.38" width="75.90" height="138.07" fill="#377eb8"/>
<rect x="302.00" y="443.00" width="75.90" height="217.68" fill="#e41a1c"/>
<text x="339.95" y="926.40" font-size="14.4" text-anchor="middle" fill="#111" textLength="51.30" lengthAdjust="spacingAndGlyphs">I_group</text>
<rect x="420.20" y="895.78" width="75.70" height="3.72" fill="#ffe680"/>
<rect x="420.20" y="463.76" width="75.70" height="432.32" fill="#984ea3"/>
<rect x="420.20" y="443.00" width="75.70" height="21.06" fill="#377eb8"/>
<text x="458.05" y="926.40" font-size="14.4" text-anchor="middle" fill="#111" textLength="56.45" lengthAdjust="spacingAndGlyphs">V_group</text>
<text x="517.60" y="419.60" font-size="17" fill="#111" textLength="59.44" lengthAdjust="spacingAndGlyphs">Phylum</text>
<rect x="554.30" y="459.80" width="8.60" height="8.50" fill="#e41a1c"/>
<text x="567.80" y="469.00" font-size="14.4" fill="#111" textLength="91.78" lengthAdjust="spacingAndGlyphs">Bacteroidetes</text>
<rect x="554.30" y="488.70" width="8.60" height="8.50" fill="#984ea3"/>
<text x="567.80" y="497.90" font-size="14.4" fill="#111" textLength="98.93" lengthAdjust="spacingAndGlyphs">Proteobacteria</text>
<rect x="554.30" y="517.60" width="8.60" height="8.50" fill="#a65628"/>
<text x="567.80" y="526.80" font-size="14.4" fill="#111" textLength="110.82" lengthAdjust="spacingAndGlyphs">Verrucomicrobia</text>
<rect x="554.30" y="546.50" width="8.60" height="8.50" fill="#80b1d3"/>
<text x="567.80" y="555.70" font-size="14.4" fill="#111" textLength="80.45" lengthAdjust="spacingAndGlyphs">Ascomycota</text>
<rect x="554.30" y="575.40" width="8.60" height="8.50" fill="#d95f02"/>
<text x="567.80" y="584.60" font-size="14.4" fill="#111" textLength="104.83" lengthAdjust="spacingAndGlyphs">Planctomycetes</text>
<rect x="554.30" y="604.30" width="8.60" height="8.50" fill="#e7298a"/>
<text x="567.80" y="613.50" font-size="14.4" fill="#111" textLength="74.02" lengthAdjust="spacingAndGlyphs">Uroviricota</text>
<rect x="554.30" y="633.20" width="8.60" height="8.50" fill="#e6ab02"/>
<text x="567.80" y="642.40" font-size="14.4" fill="#111" textLength="85.09" lengthAdjust="spacingAndGlyphs">Fusobacteria</text>
<rect x="554.30" y="662.10" width="8.60" height="8.50" fill="#666666"/>
<text x="567.80" y="671.30" font-size="14.4" fill="#111" textLength="71.50" lengthAdjust="spacingAndGlyphs">Chloroflexi</text>
<rect x="554.30" y="691.00" width="8.60" height="8.50" fill="#b2df8a"/>
<text x="567.80" y="700.20" font-size="14.4" fill="#111" textLength="56.17" lengthAdjust="spacingAndGlyphs">Chlorobi</text>
<rect x="554.30" y="719.90" width="8.60" height="8.50" fill="#cab2d6"/>
<text x="567.80" y="729.10" font-size="14.4" fill="#111" textLength="89.56" lengthAdjust="spacingAndGlyphs">Thermotogae</text>
<rect x="554.30" y="748.80" width="8.60" height="8.50" fill="#fc8d62"/>
<text x="567.80" y="758.00" font-size="14.4" fill="#111" textLength="136.05" lengthAdjust="spacingAndGlyphs">Gemmatimonadetes</text>
<rect x="554.30" y="777.70" width="8.60" height="8.50" fill="#a6842d"/>
<text x="567.80" y="786.90" font-size="14.4" fill="#111" textLength="96.84" lengthAdjust="spacingAndGlyphs">Basidiomycota</text>
<rect x="554.30" y="806.60" width="8.60" height="8.50" fill="#f4a3a0"/>
<text x="567.80" y="815.80" font-size="14.4" fill="#111" textLength="88.42" lengthAdjust="spacingAndGlyphs">Elusimicrobia</text>
<rect x="554.30" y="835.50" width="8.60" height="8.50" fill="#01665e"/>
<text x="567.80" y="844.70" font-size="14.4" fill="#111" textLength="91.07" lengthAdjust="spacingAndGlyphs">Fibrobacteres</text>
<rect x="554.30" y="864.40" width="8.60" height="8.50" fill="#1a1a1a"/>
<text x="567.80" y="873.60" font-size="14.4" fill="#111" textLength="101.43" lengthAdjust="spacingAndGlyphs">Ignavibacteriae</text>
<rect x="554.30" y="893.30" width="8.60" height="8.50" fill="#62c4f4"/>
<text x="567.80" y="902.50" font-size="14.4" fill="#111" textLength="44.98" lengthAdjust="spacingAndGlyphs">Others</text>
<rect x="712.40" y="459.50" width="8.80" height="8.50" fill="#377eb8"/>
<text x="725.80" y="468.70" font-size="14.4" fill="#111" textLength="69.08" lengthAdjust="spacingAndGlyphs">Firmicutes</text>
<rect x="712.40" y="488.40" width="8.80" height="8.50" fill="#ffff33"/>
<text x="725.80" y="497.60" font-size="14.4" fill="#111" textLength="96.75" lengthAdjust="spacingAndGlyphs">Actinobacteria</text>
<rect x="712.40" y="517.30" width="8.80" height="8.50" fill="#f781bf"/>
<text x="725.80" y="526.50" font-size="14.4" fill="#111" textLength="95.10" lengthAdjust="spacingAndGlyphs">Cyanobacteria</text>
<rect x="712.40" y="546.20" width="8.80" height="8.50" fill="#1b9e77"/>
<text x="725.80" y="555.40" font-size="14.4" fill="#111" textLength="85.39" lengthAdjust="spacingAndGlyphs">Spirochaetes</text>
<rect x="712.40" y="575.10" width="8.80" height="8.50" fill="#7570b3"/>
<text x="725.80" y="584.30" font-size="14.4" fill="#111" textLength="77.55" lengthAdjust="spacingAndGlyphs">Tenericutes</text>
<rect x="712.40" y="604.00" width="8.80" height="8.50" fill="#66a61e"/>
<text x="725.80" y="613.20" font-size="14.4" fill="#111" textLength="146.50" lengthAdjust="spacingAndGlyphs">Deinococcus-Thermus</text>
<rect x="712.40" y="632.90" width="8.80" height="8.50" fill="#a6761d"/>
<text x="725.80" y="642.10" font-size="14.4" fill="#111" textLength="96.31" lengthAdjust="spacingAndGlyphs">Euryarchaeota</text>
<rect x="712.40" y="661.80" width="8.80" height="8.50" fill="#a6cee3"/>
<text x="725.80" y="671.00" font-size="14.4" fill="#111" textLength="88.53" lengthAdjust="spacingAndGlyphs">Synergistetes</text>
<rect x="712.40" y="690.70" width="8.80" height="8.50" fill="#fdbf6f"/>
<text x="725.80" y="699.90" font-size="14.4" fill="#111" textLength="91.29" lengthAdjust="spacingAndGlyphs">Acidobacteria</text>
<rect x="712.40" y="719.60" width="8.80" height="8.50" fill="#ffff99"/>
<text x="725.80" y="728.80" font-size="14.4" fill="#111" textLength="103.33" lengthAdjust="spacingAndGlyphs">Deferribacteres</text>
<rect x="712.40" y="748.50" width="8.80" height="8.50" fill="#66c2a5"/>
<text x="725.80" y="757.70" font-size="14.4" fill="#111" textLength="74.28" lengthAdjust="spacingAndGlyphs">Nitrospirae</text>
<rect x="712.40" y="777.40" width="8.80" height="8.50" fill="#e6a818"/>
<text x="725.80" y="786.60" font-size="14.4" fill="#111" textLength="61.83" lengthAdjust="spacingAndGlyphs">Aquificae</text>
<rect x="712.40" y="806.30" width="8.80" height="8.50" fill="#ffffcc"/>
<text x="725.80" y="815.50" font-size="14.4" fill="#111" textLength="154.91" lengthAdjust="spacingAndGlyphs">Thermodesulfobacteria</text>
<rect x="712.40" y="835.20" width="8.80" height="8.50" fill="#8e0152"/>
<text x="725.80" y="844.40" font-size="14.4" fill="#111" textLength="77.42" lengthAdjust="spacingAndGlyphs">Chlamydiae</text>
<rect x="712.40" y="864.10" width="8.80" height="8.50" fill="#f08080"/>
<text x="725.80" y="873.30" font-size="14.4" fill="#111" textLength="191.20" lengthAdjust="spacingAndGlyphs">Candidatus_Saccharibacteria</text>
<text x="8.80" y="413.20" font-size="36.8" font-weight="bold" textLength="21.50" lengthAdjust="spacingAndGlyphs">d</text>
</g>
<g id="panel_e">
<line x1="954.00" y1="904.40" x2="1364.50" y2="904.40" stroke="#d9d9d9" stroke-width="1.1"/>
<text x="940.00" y="909.60" font-size="14.4" text-anchor="end" fill="#111" textLength="7.29" lengthAdjust="spacingAndGlyphs">0</text>
<line x1="954.00" y1="858.15" x2="1364.50" y2="858.15" stroke="#d9d9d9" stroke-width="1.1"/>
<text x="940.00" y="863.35" font-size="14.4" text-anchor="end" fill="#111" textLength="18.20" lengthAdjust="spacingAndGlyphs">0.1</text>
<line x1="954.00" y1="811.90" x2="1364.50" y2="811.90" stroke="#d9d9d9" stroke-width="1.1"/>
<text x="940.00" y="817.10" font-size="14.4" text-anchor="end" fill="#111" textLength="18.20" lengthAdjust="spacingAndGlyphs">0.2</text>
<line x1="954.00" y1="765.65" x2="1364.50" y2="765.65" stroke="#d9d9d9" stroke-width="1.1"/>
<text x="940.00" y="770.85" font-size="14.4" text-anchor="end" fill="#111" textLength="18.20" lengthAdjust="spacingAndGlyphs">0.3</text>
<line x1="954.00" y1="719.40" x2="1364.50" y2="719.40" stroke="#d9d9d9" stroke-width="1.1"/>
<text x="940.00" y="724.60" font-size="14.4" text-anchor="end" fill="#111" textLength="18.20" lengthAdjust="spacingAndGlyphs">0.4</text>
<line x1="954.00" y1="673.15" x2="1364.50" y2="673.15" stroke="#d9d9d9" stroke-width="1.1"/>
<text x="940.00" y="678.35" font-size="14.4" text-anchor="end" fill="#111" textLength="18.20" lengthAdjust="spacingAndGlyphs">0.5</text>
<line x1="954.00" y1="626.90" x2="1364.50" y2="626.90" stroke="#d9d9d9" stroke-width="1.1"/>
<text x="940.00" y="632.10" font-size="14.4" text-anchor="end" fill="#111" textLength="18.20" lengthAdjust="spacingAndGlyphs">0.6</text>
<line x1="954.00" y1="580.65" x2="1364.50" y2="580.65" stroke="#d9d9d9" stroke-width="1.1"/>
<text x="940.00" y="585.85" font-size="14.4" text-anchor="end" fill="#111" textLength="18.20" lengthAdjust="spacingAndGlyphs">0.7</text>
<line x1="954.00" y1="534.40" x2="1364.50" y2="534.40" stroke="#d9d9d9" stroke-width="1.1"/>
<text x="940.00" y="539.60" font-size="14.4" text-anchor="end" fill="#111" textLength="18.20" lengthAdjust="spacingAndGlyphs">0.8</text>
<line x1="954.00" y1="488.15" x2="1364.50" y2="488.15" stroke="#d9d9d9" stroke-width="1.1"/>
<text x="940.00" y="493.35" font-size="14.4" text-anchor="end" fill="#111" textLength="18.20" lengthAdjust="spacingAndGlyphs">0.9</text>
<line x1="954.00" y1="441.90" x2="1364.50" y2="441.90" stroke="#d9d9d9" stroke-width="1.1"/>
<text x="940.00" y="447.10" font-size="14.4" text-anchor="end" fill="#111" textLength="7.29" lengthAdjust="spacingAndGlyphs">1</text>
<rect x="971.80" y="441.90" width="66.00" height="6.96" fill="#e41a1c"/>
<rect x="971.80" y="448.56" width="66.00" height="51.13" fill="#377eb8"/>
<rect x="971.80" y="499.39" width="66.00" height="50.90" fill="#984ea3"/>
<rect x="971.80" y="549.99" width="66.00" height="10.98" fill="#ffff33"/>
<rect x="971.80" y="560.67" width="66.00" height="18.11" fill="#a65628"/>
<rect x="971.80" y="578.48" width="66.00" height="3.86" fill="#f781bf"/>
<rect x="971.80" y="582.04" width="66.00" height="16.95" fill="#80b1d3"/>
<rect x="971.80" y="598.69" width="66.00" height="8.63" fill="#1b9e77"/>
<rect x="971.80" y="607.01" width="66.00" height="3.86" fill="#d95f02"/>
<rect x="971.80" y="610.57" width="66.00" height="9.78" fill="#7570b3"/>
<rect x="971.80" y="620.05" width="66.00" height="12.23" fill="#e7298a"/>
<rect x="971.80" y="631.99" width="66.00" height="11.40" fill="#66a61e"/>
<rect x="971.80" y="643.09" width="66.00" height="18.11" fill="#e6ab02"/>
<rect x="971.80" y="660.89" width="66.00" height="6.27" fill="#666666"/>
<rect x="971.80" y="666.86" width="66.00" height="8.12" fill="#a6cee3"/>
<rect x="971.80" y="674.68" width="66.00" height="7.93" fill="#b2df8a"/>
<rect x="971.80" y="682.31" width="66.00" height="6.22" fill="#fdbf6f"/>
<rect x="971.80" y="688.23" width="66.00" height="4.09" fill="#cab2d6"/>
<rect x="971.80" y="692.02" width="66.00" height="6.73" fill="#ffff99"/>
<rect x="971.80" y="698.45" width="66.00" height="3.40" fill="#f4956a"/>
<rect x="971.80" y="701.55" width="66.00" height="6.22" fill="#66c2a5"/>
<rect x="971.80" y="707.47" width="66.00" height="2.70" fill="#a6842d"/>
<rect x="971.80" y="709.87" width="66.00" height="2.66" fill="#e6a818"/>
<rect x="971.80" y="712.23" width="66.00" height="3.86" fill="#f4a3a0"/>
<rect x="971.80" y="715.79" width="66.00" height="3.91" fill="#8e0152"/>
<rect x="971.80" y="719.40" width="66.00" height="2.61" fill="#01665e"/>
<rect x="971.80" y="721.71" width="66.00" height="4.37" fill="#1a1a1a"/>
<rect x="971.80" y="725.78" width="66.00" height="3.35" fill="#8c3a10"/>
<rect x="971.80" y="728.84" width="66.00" height="3.63" fill="#f08080"/>
<rect x="971.80" y="732.16" width="66.00" height="172.54" fill="#62c4f4"/>
<text x="1004.80" y="930.40" font-size="14.4" text-anchor="middle" fill="#111" textLength="48.23" lengthAdjust="spacingAndGlyphs">S_group</text>
<rect x="1074.60" y="441.90" width="65.40" height="89.38" fill="#e41a1c"/>
<rect x="1074.60" y="530.98" width="65.40" height="35.96" fill="#377eb8"/>
<rect x="1074.60" y="566.64" width="65.40" height="27.59" fill="#984ea3"/>
<rect x="1074.60" y="593.92" width="65.40" height="28.79" fill="#ffff33"/>
<rect x="1074.60" y="622.41" width="65.40" height="17.64" fill="#a65628"/>
<rect x="1074.60" y="639.76" width="65.40" height="26.94" fill="#f781bf"/>
<rect x="1074.60" y="666.40" width="65.40" height="11.68" fill="#80b1d3"/>
<rect x="1074.60" y="677.77" width="65.40" height="20.97" fill="#1b9e77"/>
<rect x="1074.60" y="698.45" width="65.40" height="20.23" fill="#d95f02"/>
<rect x="1074.60" y="718.38" width="65.40" height="8.81" fill="#7570b3"/>
<rect x="1074.60" y="726.89" width="65.40" height="8.44" fill="#e7298a"/>
<rect x="1074.60" y="735.03" width="65.40" height="5.43" fill="#88a020"/>
<rect x="1074.60" y="740.17" width="65.40" height="12.37" fill="#e6ab02"/>
<rect x="1074.60" y="752.24" width="65.40" height="6.22" fill="#666666"/>
<rect x="1074.60" y="758.16" width="65.40" height="6.41" fill="#a6cee3"/>
<rect x="1074.60" y="764.26" width="65.40" height="3.40" fill="#b2df8a"/>
<rect x="1074.60" y="767.36" width="65.40" height="7.10" fill="#fdbf6f"/>
<rect x="1074.60" y="774.16" width="65.40" height="3.35" fill="#cab2d6"/>
<rect x="1074.60" y="777.21" width="65.40" height="3.21" fill="#ffff99"/>
<rect x="1074.60" y="780.13" width="65.40" height="5.20" fill="#f4956a"/>
<rect x="1074.60" y="785.03" width="65.40" height="3.35" fill="#a6842d"/>
<rect x="1074.60" y="788.08" width="65.40" height="7.10" fill="#e6a818"/>
<rect x="1074.60" y="794.88" width="65.40" height="2.70" fill="#f4a3a0"/>
<rect x="1074.60" y="797.28" width="65.40" height="2.20" fill="#8e0152"/>
<rect x="1074.60" y="799.18" width="65.40" height="1.69" fill="#01665e"/>
<rect x="1074.60" y="800.57" width="65.40" height="3.07" fill="#1a1a1a"/>
<rect x="1074.60" y="803.34" width="65.40" height="2.15" fill="#8c3a10"/>
<rect x="1074.60" y="805.19" width="65.40" height="2.15" fill="#f08080"/>
<rect x="1074.60" y="807.04" width="65.40" height="97.66" fill="#62c4f4"/>
<text x="1107.30" y="930.40" font-size="14.4" text-anchor="middle" fill="#111" textLength="49.45" lengthAdjust="spacingAndGlyphs">B_group</text>
<rect x="1177.30" y="441.90" width="65.70" height="6.22" fill="#e41a1c"/>
<rect x="1177.30" y="447.82" width="65.70" height="26.43" fill="#377eb8"/>
<rect x="1177.30" y="473.95" width="65.70" height="8.16" fill="#984ea3"/>
<rect x="1177.30" y="481.81" width="65.70" height="13.34" fill="#ffff33"/>
<rect x="1177.30" y="494.86" width="65.70" height="8.62" fill="#a65628"/>
<rect x="1177.30" y="503.18" width="65.70" height="2.66" fill="#f781bf"/>
<rect x="1177.30" y="505.54" width="65.70" height="13.39" fill="#80b1d3"/>
<rect x="1177.30" y="518.63" width="65.70" height="5.99" fill="#1b9e77"/>
<rect x="1177.30" y="524.32" width="65.70" height="36.19" fill="#d95f02"/>
<rect x="1177.30" y="560.21" width="65.70" height="11.95" fill="#7570b3"/>
<rect x="1177.30" y="571.86" width="65.70" height="8.58" fill="#e7298a"/>
<rect x="1177.30" y="580.14" width="65.70" height="16.44" fill="#e6ab02"/>
<rect x="1177.30" y="596.28" width="65.70" height="15.05" fill="#666666"/>
<rect x="1177.30" y="611.04" width="65.70" height="6.91" fill="#a6cee3"/>
<rect x="1177.30" y="617.65" width="65.70" height="9.36" fill="#fdbf6f"/>
<rect x="1177.30" y="626.71" width="65.70" height="9.74" fill="#ffff99"/>
<rect x="1177.30" y="636.15" width="65.70" height="7.24" fill="#66c2a5"/>
<rect x="1177.30" y="643.09" width="65.70" height="2.20" fill="#a6842d"/>
<rect x="1177.30" y="644.98" width="65.70" height="5.06" fill="#fdbf6f"/>
<rect x="1177.30" y="649.75" width="65.70" height="12.19" fill="#8e0152"/>
<rect x="1177.30" y="661.63" width="65.70" height="6.22" fill="#01665e"/>
<rect x="1177.30" y="667.55" width="65.70" height="5.53" fill="#1a1a1a"/>
<rect x="1177.30" y="672.78" width="65.70" height="6.22" fill="#8c3a10"/>
<rect x="1177.30" y="678.70" width="65.70" height="4.14" fill="#f08080"/>
<rect x="1177.30" y="682.54" width="65.70" height="222.16" fill="#62c4f4"/>
<text x="1210.15" y="930.40" font-size="14.4" text-anchor="middle" fill="#111" textLength="45.25" lengthAdjust="spacingAndGlyphs">I_group</text>
<rect x="1280.50" y="441.90" width="65.50" height="106.67" fill="#e41a1c"/>
<rect x="1280.50" y="548.27" width="65.50" height="356.43" fill="#62c4f4"/>
<text x="1313.25" y="930.40" font-size="14.4" text-anchor="middle" fill="#111" textLength="49.78" lengthAdjust="spacingAndGlyphs">V_group</text>
<text x="1366.50" y="419.40" font-size="17" fill="#111" textLength="52.27" lengthAdjust="spacingAndGlyphs">Species</text>
<rect x="1380.60" y="452.50" width="7.80" height="8.80" fill="#e41a1c"/>
<text x="1392.20" y="461.60" font-size="14.4" fill="#111" textLength="92.98" lengthAdjust="spacingAndGlyphs">Escherichia_coli</text>
<rect x="1553.60" y="452.50" width="7.80" height="8.80" fill="#377eb8"/>
<text x="1565.20" y="461.60" font-size="14.4" fill="#111" textLength="141.63" lengthAdjust="spacingAndGlyphs">Muribaculum_sp.TLL-A4</text>
<rect x="1380.60" y="481.32" width="7.80" height="8.80" fill="#984ea3"/>
<text x="1392.20" y="490.42" font-size="14.4" fill="#111" textLength="125.98" lengthAdjust="spacingAndGlyphs">Phocaeicola_vulgatus</text>
<rect x="1553.60" y="481.32" width="7.80" height="8.80" fill="#ffff33"/>
<text x="1565.20" y="490.42" font-size="14.4" fill="#111" textLength="159.94" lengthAdjust="spacingAndGlyphs">Parabacteroides_distasonis</text>
<rect x="1380.60" y="510.14" width="7.80" height="8.80" fill="#a65628"/>
<text x="1392.20" y="519.24" font-size="14.4" fill="#111" textLength="107.59" lengthAdjust="spacingAndGlyphs">Phocaeicola_dorei</text>
<rect x="1553.60" y="510.14" width="7.80" height="8.80" fill="#f781bf"/>
<text x="1565.20" y="519.24" font-size="14.4" fill="#111" textLength="110.34" lengthAdjust="spacingAndGlyphs">Alistipes_finegoldii</text>
<rect x="1380.60" y="538.96" width="7.80" height="8.80" fill="#80b1d3"/>
<text x="1392.20" y="548.06" font-size="14.4" fill="#111" textLength="114.71" lengthAdjust="spacingAndGlyphs">Bacteroides_fragilis</text>
<rect x="1553.60" y="538.96" width="7.80" height="8.80" fill="#1b9e77"/>
<text x="1565.20" y="548.06" font-size="14.4" fill="#111" textLength="178.54" lengthAdjust="spacingAndGlyphs">Bacteroides_thetaiotaomicron</text>
<rect x="1380.60" y="567.78" width="7.80" height="8.80" fill="#d95f02"/>
<text x="1392.20" y="576.88" font-size="14.4" fill="#111" textLength="150.31" lengthAdjust="spacingAndGlyphs">Akkermansia_muciniphila</text>
<rect x="1553.60" y="567.78" width="7.80" height="8.80" fill="#7570b3"/>
<text x="1565.20" y="576.88" font-size="14.4" fill="#111" textLength="138.61" lengthAdjust="spacingAndGlyphs">Bacteroides_caecimuris</text>
<rect x="1380.60" y="596.60" width="7.80" height="8.80" fill="#e7298a"/>
<text x="1392.20" y="605.70" font-size="14.4" fill="#111" textLength="107.33" lengthAdjust="spacingAndGlyphs">Duncaniella_sp.C9</text>
<rect x="1553.60" y="596.60" width="7.80" height="8.80" fill="#66a61e"/>
<text x="1565.20" y="605.70" font-size="14.4" fill="#111" textLength="148.44" lengthAdjust="spacingAndGlyphs">Lactobacillus_acidophilus</text>
<rect x="1380.60" y="625.42" width="7.80" height="8.80" fill="#e6ab02"/>
<text x="1392.20" y="634.52" font-size="14.4" fill="#111" textLength="147.18" lengthAdjust="spacingAndGlyphs">Muribaculum_intestinale</text>
<rect x="1553.60" y="625.42" width="7.80" height="8.80" fill="#e6ab02"/>
<text x="1565.20" y="634.52" font-size="14.4" fill="#111" textLength="118.03" lengthAdjust="spacingAndGlyphs">Duncaniella_dubosii</text>
<rect x="1380.60" y="654.24" width="7.80" height="8.80" fill="#666666"/>
<text x="1392.20" y="663.34" font-size="14.4" fill="#111" textLength="131.93" lengthAdjust="spacingAndGlyphs">Bacteroides_uniformis</text>
<rect x="1553.60" y="654.24" width="7.80" height="8.80" fill="#a6cee3"/>
<text x="1565.20" y="663.34" font-size="14.4" fill="#111" textLength="151.68" lengthAdjust="spacingAndGlyphs">Bacteroides_sp.PHL_2737</text>
<rect x="1380.60" y="683.06" width="7.80" height="8.80" fill="#b2df8a"/>
<text x="1392.20" y="692.16" font-size="14.4" fill="#111" textLength="110.20" lengthAdjust="spacingAndGlyphs">Romboutsia_ilealis</text>
<rect x="1553.60" y="683.06" width="7.80" height="8.80" fill="#fdbf6f"/>
<text x="1565.20" y="692.16" font-size="14.4" fill="#111" textLength="125.36" lengthAdjust="spacingAndGlyphs">Flavonifractor_plautii</text>
<rect x="1380.60" y="711.88" width="7.80" height="8.80" fill="#cab2d6"/>
<text x="1392.20" y="720.98" font-size="14.4" fill="#111" textLength="90.36" lengthAdjust="spacingAndGlyphs">Alistipes_shahii</text>
<rect x="1553.60" y="711.88" width="7.80" height="8.80" fill="#ffff99"/>
<text x="1565.20" y="720.98" font-size="14.4" fill="#111" textLength="158.89" lengthAdjust="spacingAndGlyphs">Lachnoclostridium_sp.YL32</text>
<rect x="1380.60" y="740.70" width="7.80" height="8.80" fill="#f4956a"/>
<text x="1392.20" y="749.80" font-size="14.4" fill="#111" textLength="134.29" lengthAdjust="spacingAndGlyphs">Butyricimonas_faecalis</text>
<rect x="1553.60" y="740.70" width="7.80" height="8.80" fill="#66c2a5"/>
<text x="1565.20" y="749.80" font-size="14.4" fill="#111" textLength="117.88" lengthAdjust="spacingAndGlyphs">Acutalibacter_muris</text>
<rect x="1380.60" y="769.52" width="7.80" height="8.80" fill="#a6842d"/>
<text x="1392.20" y="778.62" font-size="14.4" fill="#111" textLength="115.30" lengthAdjust="spacingAndGlyphs">Bacteroides_caccae</text>
<rect x="1553.60" y="769.52" width="7.80" height="8.80" fill="#e6a818"/>
<text x="1565.20" y="778.62" font-size="14.4" fill="#111" textLength="160.50" lengthAdjust="spacingAndGlyphs">Bacteroides_cellulosilyticus</text>
<rect x="1380.60" y="798.34" width="7.80" height="8.80" fill="#f4a3a0"/>
<text x="1392.20" y="807.44" font-size="14.4" fill="#111" textLength="142.05" lengthAdjust="spacingAndGlyphs">Bacteroides_sp.HF-5287</text>
<rect x="1553.60" y="798.34" width="7.80" height="8.80" fill="#8e0152"/>
<text x="1565.20" y="807.44" font-size="14.4" fill="#111" textLength="107.48" lengthAdjust="spacingAndGlyphs">Duncaniella_sp.B8</text>
<rect x="1380.60" y="827.16" width="7.80" height="8.80" fill="#01665e"/>
<text x="1392.20" y="836.26" font-size="14.4" fill="#111" textLength="145.89" lengthAdjust="spacingAndGlyphs">Bacteroides_sp.CBA7301</text>
<rect x="1553.60" y="827.16" width="7.80" height="8.80" fill="#1a1a1a"/>
<text x="1565.20" y="836.26" font-size="14.4" fill="#111" textLength="153.54" lengthAdjust="spacingAndGlyphs">Dysosmobacter_welbionis</text>
<rect x="1380.60" y="855.98" width="7.80" height="8.80" fill="#8c3a10"/>
<text x="1392.20" y="865.08" font-size="14.4" fill="#111" textLength="129.28" lengthAdjust="spacingAndGlyphs">Clostridioides_difficile</text>
<rect x="1553.60" y="855.98" width="7.80" height="8.80" fill="#f08080"/>
<text x="1565.20" y="865.08" font-size="14.4" fill="#111" textLength="199.81" lengthAdjust="spacingAndGlyphs">Intestinimonas_butyriciproducens</text>
<rect x="1380.60" y="884.80" width="7.80" height="8.80" fill="#62c4f4"/>
<text x="1392.20" y="893.90" font-size="14.4" fill="#111" textLength="39.68" lengthAdjust="spacingAndGlyphs">Others</text>
<text x="936.60" y="408.90" font-size="36.6" font-weight="bold" textLength="20.30" lengthAdjust="spacingAndGlyphs">e</text>
</g>
<g id="panel_f">
<line x1="28.45" y1="958.00" x2="26.85" y2="1443.00" stroke="#1a1a1a" stroke-width="1.1" stroke-dasharray="2.3,9.0"/>
<line x1="140.95" y1="958.00" x2="139.35" y2="1443.00" stroke="#1a1a1a" stroke-width="1.1" stroke-dasharray="2.3,9.0"/>
<line x1="253.45" y1="958.00" x2="251.85" y2="1443.00" stroke="#1a1a1a" stroke-width="1.1" stroke-dasharray="2.3,9.0"/>
<line x1="365.95" y1="958.00" x2="364.35" y2="1443.00" stroke="#1a1a1a" stroke-width="1.1" stroke-dasharray="2.3,9.0"/>
<line x1="478.45" y1="958.00" x2="476.85" y2="1443.00" stroke="#1a1a1a" stroke-width="1.1" stroke-dasharray="2.3,9.0"/>
<line x1="590.95" y1="958.00" x2="589.35" y2="1443.00" stroke="#1a1a1a" stroke-width="1.1" stroke-dasharray="2.3,9.0"/>
<line x1="703.45" y1="958.00" x2="701.85" y2="1443.00" stroke="#1a1a1a" stroke-width="1.1" stroke-dasharray="2.3,9.0"/>
<line x1="815.95" y1="958.00" x2="814.35" y2="1443.00" stroke="#1a1a1a" stroke-width="1.1" stroke-dasharray="2.3,9.0"/>
<line x1="928.45" y1="958.00" x2="926.85" y2="1443.00" stroke="#1a1a1a" stroke-width="1.1" stroke-dasharray="2.3,9.0"/>
<line x1="871.37" y1="936.00" x2="871.31" y2="956.00" stroke="#1a1a1a" stroke-width="1.1" stroke-dasharray="2.3,9.0"/>
<rect x="168.20" y="1044.60" width="305.10" height="43.90" fill="#fff" stroke="#6b4c93" stroke-width="0.9" rx="7" ry="7"/>
<line x1="253.17" y1="1044.00" x2="253.02" y2="1089.00" stroke="#1a1a1a" stroke-width="1.1" stroke-dasharray="2.3,9.0"/>
<line x1="365.67" y1="1044.00" x2="365.52" y2="1089.00" stroke="#1a1a1a" stroke-width="1.1" stroke-dasharray="2.3,9.0"/>
<rect x="478.30" y="971.95" width="397.65" height="31.40" fill="#bd8fc9" stroke="#140a18" stroke-width="2.1"/>
<text x="466.60" y="999.40" font-size="22.6" text-anchor="end" fill="#0d0d0d" textLength="153.89" lengthAdjust="spacingAndGlyphs">Tannerellaceae</text>
<rect x="478.30" y="1010.25" width="393.55" height="31.40" fill="#bd8fc9" stroke="#140a18" stroke-width="2.1"/>
<text x="466.60" y="1037.20" font-size="22.6" text-anchor="end" fill="#0d0d0d" textLength="162.32" lengthAdjust="spacingAndGlyphs">Parabacteroides</text>
<rect x="478.30" y="1048.70" width="392.65" height="31.40" fill="#bd8fc9" stroke="#140a18" stroke-width="2.1"/>
<text x="466.60" y="1076.10" font-size="22.6" text-anchor="end" fill="#0d0d0d" textLength="272.40" lengthAdjust="spacingAndGlyphs">Parabacteroides_distasonis</text>
<rect x="478.30" y="1088.20" width="255.85" height="31.40" fill="#bd8fc9" stroke="#140a18" stroke-width="2.1"/>
<text x="466.60" y="1114.80" font-size="22.6" text-anchor="end" fill="#0d0d0d" textLength="237.22" lengthAdjust="spacingAndGlyphs">Bacteroides_intestinalis</text>
<rect x="242.95" y="1129.15" width="234.55" height="31.70" fill="#7a1391" stroke="#140a18" stroke-width="2.1"/>
<text x="489.40" y="1156.00" font-size="22.6" fill="#0d0d0d" textLength="189.54" lengthAdjust="spacingAndGlyphs">Alistipes_megaguti</text>
<rect x="194.55" y="1169.05" width="282.95" height="31.70" fill="#7a1391" stroke="#140a18" stroke-width="2.1"/>
<text x="489.40" y="1196.00" font-size="22.6" fill="#0d0d0d" textLength="314.09" lengthAdjust="spacingAndGlyphs">Lachnoclostridium_phocaeense</text>
<rect x="180.25" y="1209.00" width="297.25" height="31.70" fill="#7a1391" stroke="#140a18" stroke-width="2.1"/>
<text x="489.40" y="1235.60" font-size="22.6" fill="#0d0d0d" textLength="193.79" lengthAdjust="spacingAndGlyphs">Betaproteobacteria</text>
<rect x="165.95" y="1248.50" width="311.55" height="31.70" fill="#7a1391" stroke="#140a18" stroke-width="2.1"/>
<text x="489.40" y="1274.60" font-size="22.6" fill="#0d0d0d" textLength="94.18" lengthAdjust="spacingAndGlyphs">Bacillales</text>
<rect x="161.65" y="1287.20" width="315.85" height="31.70" fill="#7a1391" stroke="#140a18" stroke-width="2.1"/>
<text x="489.40" y="1313.50" font-size="22.6" fill="#0d0d0d" textLength="204.53" lengthAdjust="spacingAndGlyphs">Alphaproteobacteria</text>
<rect x="117.55" y="1325.90" width="359.95" height="31.70" fill="#7a1391" stroke="#140a18" stroke-width="2.1"/>
<text x="489.40" y="1352.00" font-size="22.6" fill="#0d0d0d" textLength="145.12" lengthAdjust="spacingAndGlyphs">Actinobacteria</text>
<rect x="111.75" y="1364.35" width="365.75" height="31.70" fill="#7a1391" stroke="#140a18" stroke-width="2.1"/>
<text x="489.40" y="1390.80" font-size="22.6" fill="#0d0d0d" textLength="145.12" lengthAdjust="spacingAndGlyphs">Actinobacteria</text>
<rect x="19.15" y="1402.65" width="458.35" height="31.70" fill="#7a1391" stroke="#140a18" stroke-width="2.1"/>
<text x="489.40" y="1429.20" font-size="22.6" fill="#0d0d0d" textLength="104.56" lengthAdjust="spacingAndGlyphs">Firmicutes</text>
<line x1="27.05" y1="1443.20" x2="27.05" y2="1457.00" stroke="#1a1a1a" stroke-width="1.1"/>
<text x="27.45" y="1494.40" font-size="32.6" text-anchor="middle" fill="#0d0d0d" textLength="45.40" lengthAdjust="spacingAndGlyphs">−4</text>
<line x1="139.55" y1="1443.20" x2="139.55" y2="1457.00" stroke="#1a1a1a" stroke-width="1.1"/>
<text x="139.95" y="1494.40" font-size="32.6" text-anchor="middle" fill="#0d0d0d" textLength="45.40" lengthAdjust="spacingAndGlyphs">−3</text>
<line x1="252.05" y1="1443.20" x2="252.05" y2="1457.00" stroke="#1a1a1a" stroke-width="1.1"/>
<text x="252.45" y="1494.40" font-size="32.6" text-anchor="middle" fill="#0d0d0d" textLength="45.40" lengthAdjust="spacingAndGlyphs">−2</text>
<line x1="364.55" y1="1443.20" x2="364.55" y2="1457.00" stroke="#1a1a1a" stroke-width="1.1"/>
<text x="364.95" y="1494.40" font-size="32.6" text-anchor="middle" fill="#0d0d0d" textLength="45.40" lengthAdjust="spacingAndGlyphs">−1</text>
<line x1="477.05" y1="1443.20" x2="477.05" y2="1457.00" stroke="#1a1a1a" stroke-width="1.1"/>
<text x="477.05" y="1494.40" font-size="32.6" text-anchor="middle" fill="#0d0d0d" textLength="19.60" lengthAdjust="spacingAndGlyphs">0</text>
<line x1="589.55" y1="1443.20" x2="589.55" y2="1457.00" stroke="#1a1a1a" stroke-width="1.1"/>
<text x="589.55" y="1494.40" font-size="32.6" text-anchor="middle" fill="#0d0d0d" textLength="19.60" lengthAdjust="spacingAndGlyphs">1</text>
<line x1="702.05" y1="1443.20" x2="702.05" y2="1457.00" stroke="#1a1a1a" stroke-width="1.1"/>
<text x="702.05" y="1494.40" font-size="32.6" text-anchor="middle" fill="#0d0d0d" textLength="19.60" lengthAdjust="spacingAndGlyphs">2</text>
<line x1="814.55" y1="1443.20" x2="814.55" y2="1457.00" stroke="#1a1a1a" stroke-width="1.1"/>
<text x="814.55" y="1494.40" font-size="32.6" text-anchor="middle" fill="#0d0d0d" textLength="19.60" lengthAdjust="spacingAndGlyphs">3</text>
<line x1="927.05" y1="1443.20" x2="927.05" y2="1457.00" stroke="#1a1a1a" stroke-width="1.1"/>
<text x="927.05" y="1494.40" font-size="32.6" text-anchor="middle" fill="#0d0d0d" textLength="19.60" lengthAdjust="spacingAndGlyphs">4</text>
<text x="251.00" y="1542.60" font-size="34.2" fill="#0d0d0d" textLength="339.62" lengthAdjust="spacingAndGlyphs">LDA SCORE (log 10)</text>
<rect x="733.00" y="1366.00" width="180.00" height="70.50" fill="#fff"/>
<rect x="741.60" y="1375.80" width="47.40" height="15.20" fill="#7a1391" stroke="#140a18" stroke-width="1.6"/>
<rect x="741.60" y="1412.40" width="47.40" height="15.20" fill="#bd8fc9" stroke="#140a18" stroke-width="1.6"/>
<text x="808.80" y="1391.40" font-size="24.2" fill="#0d0d0d" textLength="94.62" lengthAdjust="spacingAndGlyphs">S_group</text>
<text x="808.80" y="1427.60" font-size="24.2" fill="#0d0d0d" textLength="95.82" lengthAdjust="spacingAndGlyphs">B_group</text>
<text x="10.50" y="1012.20" font-size="38" font-weight="bold">f</text>
</g>
<g id="panel_g">
<line x1="980.40" y1="937.60" x2="980.40" y2="1458.00" stroke="#101010" stroke-width="1.5" stroke-dasharray="2.5,8.8"/>
<line x1="978.50" y1="1460.20" x2="978.50" y2="1811.00" stroke="#101010" stroke-width="1.5" stroke-dasharray="2.5,8.8"/>
<line x1="1090.30" y1="937.60" x2="1090.30" y2="1458.00" stroke="#101010" stroke-width="1.5" stroke-dasharray="2.5,8.8"/>
<line x1="1088.70" y1="1460.20" x2="1088.70" y2="1811.00" stroke="#101010" stroke-width="1.5" stroke-dasharray="2.5,8.8"/>
<line x1="1200.20" y1="937.60" x2="1200.20" y2="1458.00" stroke="#101010" stroke-width="1.5" stroke-dasharray="2.5,8.8"/>
<line x1="1198.90" y1="1460.20" x2="1198.90" y2="1811.00" stroke="#101010" stroke-width="1.5" stroke-dasharray="2.5,8.8"/>
<line x1="1310.10" y1="937.60" x2="1310.10" y2="1458.00" stroke="#101010" stroke-width="1.5" stroke-dasharray="2.5,8.8"/>
<line x1="1309.10" y1="1460.20" x2="1309.10" y2="1811.00" stroke="#101010" stroke-width="1.5" stroke-dasharray="2.5,8.8"/>
<line x1="1420.00" y1="937.60" x2="1420.00" y2="1458.00" stroke="#101010" stroke-width="1.5" stroke-dasharray="2.5,8.8"/>
<line x1="1419.30" y1="1460.20" x2="1419.30" y2="1811.00" stroke="#101010" stroke-width="1.5" stroke-dasharray="2.5,8.8"/>
<line x1="1529.90" y1="937.60" x2="1529.90" y2="1458.00" stroke="#101010" stroke-width="1.5" stroke-dasharray="2.5,8.8"/>
<line x1="1529.50" y1="1460.20" x2="1529.50" y2="1811.00" stroke="#101010" stroke-width="1.5" stroke-dasharray="2.5,8.8"/>
<line x1="1639.80" y1="937.60" x2="1639.80" y2="1458.00" stroke="#101010" stroke-width="1.5" stroke-dasharray="2.5,8.8"/>
<line x1="1639.70" y1="1460.20" x2="1639.70" y2="1811.00" stroke="#101010" stroke-width="1.5" stroke-dasharray="2.5,8.8"/>
<line x1="1749.70" y1="937.60" x2="1749.70" y2="1458.00" stroke="#101010" stroke-width="1.5" stroke-dasharray="2.5,8.8"/>
<line x1="1749.90" y1="1460.20" x2="1749.90" y2="1811.00" stroke="#101010" stroke-width="1.5" stroke-dasharray="2.5,8.8"/>
<line x1="868.30" y1="1558.60" x2="868.30" y2="1811.00" stroke="#101010" stroke-width="1.5" stroke-dasharray="2.5,8.8"/>
<rect x="1310.25" y="946.35" width="457.30" height="32.10" fill="#0404ee" stroke="#0a0818" stroke-width="2.1"/>
<text x="1298.20" y="974.50" font-size="22.03" text-anchor="end" fill="#0d0d0d" textLength="101.95" lengthAdjust="spacingAndGlyphs">Firmicutes</text>
<rect x="1310.25" y="985.92" width="440.50" height="32.10" fill="#0404ee" stroke="#0a0818" stroke-width="2.1"/>
<text x="1298.20" y="1014.07" font-size="22.03" text-anchor="end" fill="#0d0d0d" textLength="91.95" lengthAdjust="spacingAndGlyphs">Clostridia</text>
<rect x="1310.25" y="1025.49" width="440.50" height="32.10" fill="#0404ee" stroke="#0a0818" stroke-width="2.1"/>
<text x="1298.20" y="1053.64" font-size="22.03" text-anchor="end" fill="#0d0d0d" textLength="119.52" lengthAdjust="spacingAndGlyphs">Clostridiales</text>
<rect x="1310.25" y="1065.06" width="418.50" height="32.10" fill="#0404ee" stroke="#0a0818" stroke-width="2.1"/>
<text x="1298.20" y="1093.21" font-size="22.03" text-anchor="end" fill="#0d0d0d" textLength="164.77" lengthAdjust="spacingAndGlyphs">Lachnospiraceae</text>
<rect x="1310.25" y="1104.63" width="397.10" height="32.10" fill="#0404ee" stroke="#0a0818" stroke-width="2.1"/>
<text x="1298.20" y="1132.78" font-size="22.03" text-anchor="end" fill="#0d0d0d" textLength="57.72" lengthAdjust="spacingAndGlyphs">Bacilli</text>
<rect x="1310.25" y="1144.20" width="359.90" height="32.10" fill="#0404ee" stroke="#0a0818" stroke-width="2.1"/>
<text x="1298.20" y="1172.35" font-size="22.03" text-anchor="end" fill="#0d0d0d" textLength="178.64" lengthAdjust="spacingAndGlyphs">Lachnoclostridium</text>
<rect x="1310.25" y="1183.77" width="353.10" height="32.10" fill="#0404ee" stroke="#0a0818" stroke-width="2.1"/>
<text x="1298.20" y="1211.92" font-size="22.03" text-anchor="end" fill="#0d0d0d" textLength="224.03" lengthAdjust="spacingAndGlyphs">Lactobacillus_johnsonii</text>
<rect x="1310.25" y="1223.34" width="346.90" height="32.10" fill="#0404ee" stroke="#0a0818" stroke-width="2.1"/>
<text x="1298.20" y="1251.49" font-size="22.03" text-anchor="end" fill="#0d0d0d" textLength="159.00" lengthAdjust="spacingAndGlyphs">Oscillospiraceae</text>
<rect x="1310.25" y="1262.91" width="344.30" height="32.10" fill="#0404ee" stroke="#0a0818" stroke-width="2.1"/>
<text x="1298.20" y="1291.06" font-size="22.03" text-anchor="end" fill="#0d0d0d" textLength="141.49" lengthAdjust="spacingAndGlyphs">Actinobacteria</text>
<rect x="1310.25" y="1302.48" width="342.30" height="32.10" fill="#0404ee" stroke="#0a0818" stroke-width="2.1"/>
<text x="1298.20" y="1330.63" font-size="22.03" text-anchor="end" fill="#0d0d0d" textLength="141.49" lengthAdjust="spacingAndGlyphs">Actinobacteria</text>
<rect x="1310.25" y="1342.05" width="336.60" height="32.10" fill="#0404ee" stroke="#0a0818" stroke-width="2.1"/>
<text x="1298.20" y="1370.20" font-size="22.03" text-anchor="end" fill="#0d0d0d" textLength="97.76" lengthAdjust="spacingAndGlyphs">Roseburia</text>
<rect x="1310.25" y="1381.62" width="335.00" height="32.10" fill="#0404ee" stroke="#0a0818" stroke-width="2.1"/>
<text x="1298.20" y="1409.77" font-size="22.03" text-anchor="end" fill="#0d0d0d" textLength="68.12" lengthAdjust="spacingAndGlyphs">Blautia</text>
<rect x="1310.25" y="1421.19" width="335.00" height="32.10" fill="#0404ee" stroke="#0a0818" stroke-width="2.1"/>
<text x="1298.20" y="1449.34" font-size="22.03" text-anchor="end" fill="#0d0d0d" textLength="268.27" lengthAdjust="spacingAndGlyphs">Lachnoclostridium_sp_YL32</text>
<rect x="1316.20" y="1693.30" width="304.20" height="43.20" fill="#fff" stroke="#5f4488" stroke-width="0.9" rx="7" ry="7"/>
<line x1="1419.30" y1="1695.40" x2="1419.30" y2="1737.00" stroke="#101010" stroke-width="1.5" stroke-dasharray="2.5,8.8"/>
<line x1="1529.50" y1="1695.40" x2="1529.50" y2="1737.00" stroke="#101010" stroke-width="1.5" stroke-dasharray="2.5,8.8"/>
<rect x="1053.35" y="1460.45" width="256.00" height="31.50" fill="#bd8fc9" stroke="#0a0818" stroke-width="2.1"/>
<text x="1321.00" y="1489.00" font-size="22.03" fill="#0d0d0d" textLength="203.72" lengthAdjust="spacingAndGlyphs">Alistipes_indistinctus</text>
<rect x="1026.55" y="1499.72" width="282.80" height="31.50" fill="#bd8fc9" stroke="#0a0818" stroke-width="2.1"/>
<text x="1321.00" y="1528.27" font-size="22.03" fill="#0d0d0d" textLength="71.45" lengthAdjust="spacingAndGlyphs">Viruses</text>
<rect x="1018.55" y="1538.99" width="290.80" height="31.50" fill="#bd8fc9" stroke="#0a0818" stroke-width="2.1"/>
<text x="1321.00" y="1567.54" font-size="22.03" fill="#0d0d0d" textLength="224.12" lengthAdjust="spacingAndGlyphs">Butyricimonas_faecalis</text>
<rect x="1018.55" y="1578.26" width="290.80" height="31.50" fill="#bd8fc9" stroke="#0a0818" stroke-width="2.1"/>
<text x="1321.00" y="1606.81" font-size="22.03" fill="#0d0d0d" textLength="139.89" lengthAdjust="spacingAndGlyphs">Butyricimonas</text>
<rect x="1014.45" y="1617.53" width="294.90" height="31.50" fill="#bd8fc9" stroke="#0a0818" stroke-width="2.1"/>
<text x="1321.00" y="1646.08" font-size="22.03" fill="#0d0d0d" textLength="174.41" lengthAdjust="spacingAndGlyphs">Odoribacteraceae</text>
<rect x="1010.45" y="1656.80" width="298.90" height="31.50" fill="#bd8fc9" stroke="#0a0818" stroke-width="2.1"/>
<text x="1321.00" y="1685.35" font-size="22.03" fill="#0d0d0d" textLength="181.84" lengthAdjust="spacingAndGlyphs">Romboutsia_ilealis</text>
<rect x="925.25" y="1696.07" width="384.10" height="31.50" fill="#bd8fc9" stroke="#0a0818" stroke-width="2.1"/>
<text x="1321.00" y="1724.62" font-size="22.03" fill="#0d0d0d" textLength="265.59" lengthAdjust="spacingAndGlyphs">Parabacteroides_distasonis</text>
<rect x="923.65" y="1735.34" width="385.70" height="31.50" fill="#bd8fc9" stroke="#0a0818" stroke-width="2.1"/>
<text x="1321.00" y="1763.89" font-size="22.03" fill="#0d0d0d" textLength="158.27" lengthAdjust="spacingAndGlyphs">Parabacteroides</text>
<rect x="916.25" y="1774.61" width="393.10" height="31.50" fill="#bd8fc9" stroke="#0a0818" stroke-width="2.1"/>
<text x="1321.00" y="1803.16" font-size="22.03" fill="#0d0d0d" textLength="150.04" lengthAdjust="spacingAndGlyphs">Tannerellaceae</text>
<line x1="868.30" y1="1816.80" x2="868.30" y2="1830.20" stroke="#1a1a1a" stroke-width="1.2"/>
<text x="868.90" y="1867.00" font-size="32.6" text-anchor="middle" fill="#0d0d0d" textLength="44.22" lengthAdjust="spacingAndGlyphs">−4</text>
<line x1="978.50" y1="1816.80" x2="978.50" y2="1830.20" stroke="#1a1a1a" stroke-width="1.2"/>
<text x="979.10" y="1867.00" font-size="32.6" text-anchor="middle" fill="#0d0d0d" textLength="44.22" lengthAdjust="spacingAndGlyphs">−3</text>
<line x1="1088.70" y1="1816.80" x2="1088.70" y2="1830.20" stroke="#1a1a1a" stroke-width="1.2"/>
<text x="1089.30" y="1867.00" font-size="32.6" text-anchor="middle" fill="#0d0d0d" textLength="44.22" lengthAdjust="spacingAndGlyphs">−2</text>
<line x1="1198.90" y1="1816.80" x2="1198.90" y2="1830.20" stroke="#1a1a1a" stroke-width="1.2"/>
<text x="1199.50" y="1867.00" font-size="32.6" text-anchor="middle" fill="#0d0d0d" textLength="44.22" lengthAdjust="spacingAndGlyphs">−1</text>
<line x1="1309.10" y1="1816.80" x2="1309.10" y2="1830.20" stroke="#1a1a1a" stroke-width="1.2"/>
<text x="1309.10" y="1867.00" font-size="32.6" text-anchor="middle" fill="#0d0d0d" textLength="19.09" lengthAdjust="spacingAndGlyphs">0</text>
<line x1="1419.30" y1="1816.80" x2="1419.30" y2="1830.20" stroke="#1a1a1a" stroke-width="1.2"/>
<text x="1419.30" y="1867.00" font-size="32.6" text-anchor="middle" fill="#0d0d0d" textLength="19.09" lengthAdjust="spacingAndGlyphs">1</text>
<line x1="1529.50" y1="1816.80" x2="1529.50" y2="1830.20" stroke="#1a1a1a" stroke-width="1.2"/>
<text x="1529.50" y="1867.00" font-size="32.6" text-anchor="middle" fill="#0d0d0d" textLength="19.09" lengthAdjust="spacingAndGlyphs">2</text>
<line x1="1639.70" y1="1816.80" x2="1639.70" y2="1830.20" stroke="#1a1a1a" stroke-width="1.2"/>
<text x="1639.70" y="1867.00" font-size="32.6" text-anchor="middle" fill="#0d0d0d" textLength="19.09" lengthAdjust="spacingAndGlyphs">3</text>
<line x1="1749.90" y1="1816.80" x2="1749.90" y2="1830.20" stroke="#1a1a1a" stroke-width="1.2"/>
<text x="1749.90" y="1867.00" font-size="32.6" text-anchor="middle" fill="#0d0d0d" textLength="19.09" lengthAdjust="spacingAndGlyphs">4</text>
<text x="1197.00" y="1914.80" font-size="35" fill="#0d0d0d" textLength="334.62" lengthAdjust="spacingAndGlyphs">LDA SCORE (log 10)</text>
<rect x="1590.00" y="1746.50" width="180.00" height="67.00" fill="#fff"/>
<rect x="1598.00" y="1762.00" width="44.40" height="15.40" fill="#0404ee" stroke="#0a0818" stroke-width="1.6"/>
<rect x="1598.00" y="1792.00" width="44.40" height="15.40" fill="#bd8fc9" stroke="#0a0818" stroke-width="1.6"/>
<text x="1659.80" y="1776.90" font-size="22.6" fill="#0d0d0d" textLength="80.01" lengthAdjust="spacingAndGlyphs">I_group</text>
<text x="1659.80" y="1806.80" font-size="22.6" fill="#0d0d0d" textLength="88.41" lengthAdjust="spacingAndGlyphs">B_group</text>
<text x="939.20" y="1002.00" font-size="38" font-weight="bold" font-family="Liberation Serif">g</text>
</g>
<g id="panel_h">
<text x="164.20" y="1623.60" font-size="37.6" fill="#0a0a0a" textLength="452.80" lengthAdjust="spacingAndGlyphs">Parabacteroides_distasonis</text>
<line x1="246.70" y1="1644.80" x2="246.70" y2="1879.20" stroke="#060606" stroke-width="2.4"/>
<line x1="245.50" y1="1878.00" x2="402.50" y2="1878.00" stroke="#060606" stroke-width="2.4"/>
<line x1="238.00" y1="1878.00" x2="246.70" y2="1878.00" stroke="#060606" stroke-width="2.0"/>
<text x="234.30" y="1884.30" font-size="16.8" text-anchor="end" fill="#060606" font-weight="bold" textLength="22.80" lengthAdjust="spacingAndGlyphs">0.0</text>
<line x1="238.00" y1="1831.60" x2="246.70" y2="1831.60" stroke="#060606" stroke-width="2.0"/>
<text x="234.30" y="1837.90" font-size="16.8" text-anchor="end" fill="#060606" font-weight="bold" textLength="22.80" lengthAdjust="spacingAndGlyphs">0.2</text>
<line x1="238.00" y1="1785.20" x2="246.70" y2="1785.20" stroke="#060606" stroke-width="2.0"/>
<text x="234.30" y="1791.50" font-size="16.8" text-anchor="end" fill="#060606" font-weight="bold" textLength="22.80" lengthAdjust="spacingAndGlyphs">0.4</text>
<line x1="238.00" y1="1738.80" x2="246.70" y2="1738.80" stroke="#060606" stroke-width="2.0"/>
<text x="234.30" y="1745.10" font-size="16.8" text-anchor="end" fill="#060606" font-weight="bold" textLength="22.80" lengthAdjust="spacingAndGlyphs">0.6</text>
<line x1="238.00" y1="1692.40" x2="246.70" y2="1692.40" stroke="#060606" stroke-width="2.0"/>
<text x="234.30" y="1698.70" font-size="16.8" text-anchor="end" fill="#060606" font-weight="bold" textLength="22.80" lengthAdjust="spacingAndGlyphs">0.8</text>
<line x1="238.00" y1="1646.00" x2="246.70" y2="1646.00" stroke="#060606" stroke-width="2.0"/>
<text x="234.30" y="1652.30" font-size="16.8" text-anchor="end" fill="#060606" font-weight="bold" textLength="22.80" lengthAdjust="spacingAndGlyphs">1.0</text>
<line x1="291.10" y1="1677.20" x2="291.10" y2="1740.68" stroke="#a98fb3" stroke-width="1.25"/>
<line x1="280.20" y1="1677.20" x2="302.00" y2="1677.20" stroke="#a98fb3" stroke-width="1.25"/>
<rect x="269.20" y="1739.68" width="43.60" height="138.32" fill="#ae7fbf"/>
<line x1="291.10" y1="1878.00" x2="291.10" y2="1887.40" stroke="#060606" stroke-width="2.3"/>
<text x="291.10" y="1906.60" font-size="16.8" text-anchor="middle" fill="#060606" font-weight="bold">B</text>
<line x1="357.50" y1="1809.70" x2="357.50" y2="1828.61" stroke="#6a2a7a" stroke-width="1.25"/>
<line x1="347.00" y1="1809.70" x2="368.00" y2="1809.70" stroke="#6a2a7a" stroke-width="1.25"/>
<rect x="335.50" y="1827.61" width="43.70" height="50.39" fill="#77089a"/>
<line x1="357.50" y1="1878.00" x2="357.50" y2="1887.40" stroke="#060606" stroke-width="2.3"/>
<text x="357.50" y="1906.60" font-size="16.8" text-anchor="middle" fill="#060606" font-weight="bold">S</text>
<line x1="302.40" y1="1667.70" x2="340.80" y2="1667.70" stroke="#060606" stroke-width="2.3"/>
<text x="321.60" y="1664.60" font-size="27" text-anchor="middle" fill="#060606" font-weight="bold">*</text>
<line x1="522.60" y1="1646.80" x2="522.60" y2="1881.00" stroke="#060606" stroke-width="2.4"/>
<line x1="521.40" y1="1879.80" x2="678.40" y2="1879.80" stroke="#060606" stroke-width="2.4"/>
<line x1="513.90" y1="1879.80" x2="522.60" y2="1879.80" stroke="#060606" stroke-width="2.0"/>
<text x="510.00" y="1886.10" font-size="16.8" text-anchor="end" fill="#060606" font-weight="bold" textLength="22.80" lengthAdjust="spacingAndGlyphs">0.0</text>
<line x1="513.90" y1="1833.44" x2="522.60" y2="1833.44" stroke="#060606" stroke-width="2.0"/>
<text x="510.00" y="1839.74" font-size="16.8" text-anchor="end" fill="#060606" font-weight="bold" textLength="22.80" lengthAdjust="spacingAndGlyphs">0.2</text>
<line x1="513.90" y1="1787.08" x2="522.60" y2="1787.08" stroke="#060606" stroke-width="2.0"/>
<text x="510.00" y="1793.38" font-size="16.8" text-anchor="end" fill="#060606" font-weight="bold" textLength="22.80" lengthAdjust="spacingAndGlyphs">0.4</text>
<line x1="513.90" y1="1740.72" x2="522.60" y2="1740.72" stroke="#060606" stroke-width="2.0"/>
<text x="510.00" y="1747.02" font-size="16.8" text-anchor="end" fill="#060606" font-weight="bold" textLength="22.80" lengthAdjust="spacingAndGlyphs">0.6</text>
<line x1="513.90" y1="1694.36" x2="522.60" y2="1694.36" stroke="#060606" stroke-width="2.0"/>
<text x="510.00" y="1700.66" font-size="16.8" text-anchor="end" fill="#060606" font-weight="bold" textLength="22.80" lengthAdjust="spacingAndGlyphs">0.8</text>
<line x1="513.90" y1="1648.00" x2="522.60" y2="1648.00" stroke="#060606" stroke-width="2.0"/>
<text x="510.00" y="1654.30" font-size="16.8" text-anchor="end" fill="#060606" font-weight="bold" textLength="22.80" lengthAdjust="spacingAndGlyphs">1.0</text>
<line x1="566.90" y1="1713.51" x2="566.90" y2="1781.01" stroke="#2a2a2a" stroke-width="1.25"/>
<line x1="556.00" y1="1713.51" x2="577.80" y2="1713.51" stroke="#2a2a2a" stroke-width="1.25"/>
<rect x="544.90" y="1780.01" width="43.90" height="99.79" fill="#0505c4"/>
<line x1="566.90" y1="1879.80" x2="566.90" y2="1889.20" stroke="#060606" stroke-width="2.3"/>
<text x="566.90" y="1908.40" font-size="16.8" text-anchor="middle" fill="#060606" font-weight="bold">I</text>
<line x1="633.00" y1="1811.30" x2="633.00" y2="1829.80" stroke="#6a2a7a" stroke-width="1.25"/>
<line x1="622.40" y1="1811.30" x2="643.60" y2="1811.30" stroke="#6a2a7a" stroke-width="1.25"/>
<rect x="611.20" y="1828.80" width="43.90" height="51.00" fill="#77089a"/>
<line x1="633.00" y1="1879.80" x2="633.00" y2="1889.20" stroke="#060606" stroke-width="2.3"/>
<text x="633.00" y="1908.40" font-size="16.8" text-anchor="middle" fill="#060606" font-weight="bold">S</text>
<line x1="580.70" y1="1695.50" x2="610.90" y2="1695.50" stroke="#060606" stroke-width="2.3"/>
<text x="595.80" y="1683.60" font-size="18" text-anchor="middle" fill="#0a0a0a">ns</text>
<text x="9.50" y="1592.60" font-size="38" font-weight="bold" textLength="22.00" lengthAdjust="spacingAndGlyphs">h</text>
</g>
</svg>
</body></html>
